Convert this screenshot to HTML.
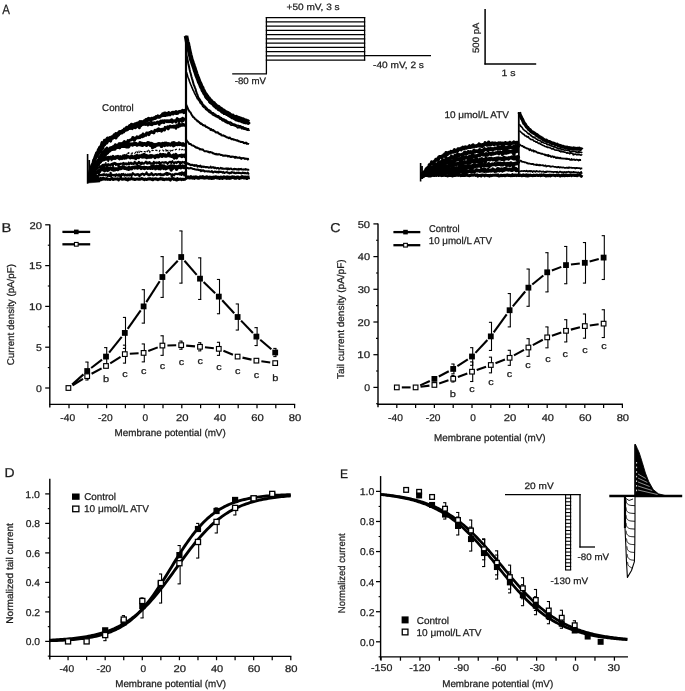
<!DOCTYPE html>
<html><head><meta charset="utf-8"><style>
html,body{margin:0;padding:0;background:#fff;}
svg{display:block;will-change:transform;}
text{font-family:"Liberation Sans", sans-serif;stroke:#1c1c1c;stroke-width:0.25px;text-rendering:geometricPrecision;}
</style></head><body>
<svg width="685" height="691" viewBox="0 0 685 691">
<rect x="0" y="0" width="685" height="691" fill="#fff"/>
<text x="2.14" y="13.8" font-size="13.4" fill="#1c1c1c" textLength="7.68" lengthAdjust="spacingAndGlyphs">A</text>
<line x1="232.2" y1="73.9" x2="267" y2="73.9" stroke="#000" stroke-width="1.3"/>
<line x1="266.4" y1="73.9" x2="266.4" y2="17" stroke="#000" stroke-width="1.3"/>
<line x1="265.8" y1="17.6" x2="365.2" y2="17.6" stroke="#000" stroke-width="1.25"/>
<line x1="265.8" y1="21.84" x2="365.2" y2="21.84" stroke="#000" stroke-width="1.25"/>
<line x1="265.8" y1="26.08" x2="365.2" y2="26.08" stroke="#000" stroke-width="1.25"/>
<line x1="265.8" y1="30.32" x2="365.2" y2="30.32" stroke="#000" stroke-width="1.25"/>
<line x1="265.8" y1="34.56" x2="365.2" y2="34.56" stroke="#000" stroke-width="1.25"/>
<line x1="265.8" y1="38.8" x2="365.2" y2="38.8" stroke="#000" stroke-width="1.25"/>
<line x1="265.8" y1="43.04" x2="365.2" y2="43.04" stroke="#000" stroke-width="1.25"/>
<line x1="265.8" y1="47.28" x2="365.2" y2="47.28" stroke="#000" stroke-width="1.25"/>
<line x1="265.8" y1="51.52" x2="365.2" y2="51.52" stroke="#000" stroke-width="1.25"/>
<line x1="265.8" y1="55.76" x2="365.2" y2="55.76" stroke="#000" stroke-width="1.25"/>
<line x1="265.8" y1="60" x2="365.2" y2="60" stroke="#000" stroke-width="1.25"/>
<line x1="364.6" y1="17" x2="364.6" y2="60.6" stroke="#000" stroke-width="1.3"/>
<line x1="364" y1="55.6" x2="431" y2="55.6" stroke="#000" stroke-width="1.3"/>
<text x="286.5" y="9.5" font-size="9.2" fill="#1c1c1c" textLength="53.08" lengthAdjust="spacingAndGlyphs">+50 mV, 3 s</text>
<text x="234.76" y="83.7" font-size="9.3" fill="#1c1c1c" textLength="31.22" lengthAdjust="spacingAndGlyphs">-80 mV</text>
<text x="373.14" y="68" font-size="9.2" fill="#1c1c1c" textLength="50.82" lengthAdjust="spacingAndGlyphs">-40 mV, 2 s</text>
<line x1="485.1" y1="9" x2="485.1" y2="64.6" stroke="#000" stroke-width="1.5"/>
<line x1="484.4" y1="64" x2="536.2" y2="64" stroke="#000" stroke-width="1.5"/>
<text transform="translate(479 52.6) rotate(-90)" x="-0.38" y="0" font-size="9.2" fill="#1c1c1c" textLength="30.38" lengthAdjust="spacingAndGlyphs">500 pA</text>
<text x="501.51" y="76.2" font-size="9.2" fill="#1c1c1c" textLength="14.05" lengthAdjust="spacingAndGlyphs">1 s</text>
<text x="102.11" y="110.6" font-size="9.8" fill="#1c1c1c" textLength="31.56" lengthAdjust="spacingAndGlyphs">Control</text>
<text x="444.45" y="117.7" font-size="9.7" fill="#1c1c1c" textLength="64.53" lengthAdjust="spacingAndGlyphs">10 μmol/L ATV</text>
<path d="M89,174.82 L89.6,173.24 L90.2,171.06 L90.8,168.85 L91.4,167.4 L92,165.31 L92.6,164.29 L93.2,163.39 L93.8,160.32 L94.4,159.51 L95,157.69 L95.6,156.14 L96.2,154.67 L96.8,152.77 L97.4,152.35 L98,151.86 L98.6,149.5 L99.2,149.23 L99.8,147.35 L100.4,146.94 L101,147.43 L101.6,144.96 L102.2,142.82 L102.8,144.62 L103.4,143.74 L104,142.78 L104.6,140.51 L105.2,140.45 L105.8,141.14 L106.4,140.77 L107,139.17 L107.6,138.22 L108.2,138.75 L108.8,138.49 L109.4,139.44 L110,137.78 L110.6,137.98 L111.2,138.28 L111.8,136.91 L112.4,136.91 L113,137.55 L113.6,136.35 L114.2,135.1 L114.8,135.66 L115.4,137.32 L116,133.82 L116.6,135.14 L117.2,134.25 L117.8,133.35 L118.4,134.82 L119,133.58 L119.6,131.83 L120.2,132.35 L120.8,132.32 L121.4,131.41 L122,131.65 L122.6,130.75 L123.2,130.9 L123.8,131.07 L124.4,129.23 L125,129.49 L125.6,128.67 L126.2,128.73 L126.8,127.47 L127.4,127.55 L128,127.49 L128.6,127.93 L129.2,127.78 L129.8,125.75 L130.4,125.81 L131,127.64 L131.6,124.4 L132.2,125.19 L132.8,125.18 L133.4,125.87 L134,125.23 L134.6,124.27 L135.2,124.01 L135.8,123.87 L136.4,124.88 L137,123.3 L137.6,123.18 L138.2,123.43 L138.8,122.9 L139.4,122.64 L140,121.81 L140.6,122.39 L141.2,121.9 L141.8,122.84 L142.4,122.29 L143,121.63 L143.6,121.94 L144.2,121.05 L144.8,121.84 L145.4,120.92 L146,119.63 L146.6,119.66 L147.2,120.62 L147.8,119.01 L148.4,118.58 L149,119.61 L149.6,119 L150.2,119.55 L150.8,120.81 L151.4,118.46 L152,118.4 L152.6,118.78 L153.2,118.78 L153.8,118.11 L154.4,117.89 L155,118.32 L155.6,117.99 L156.2,116.71 L156.8,117.17 L157.4,117.05 L158,116.09 L158.6,116.82 L159.2,117.1 L159.8,116.93 L160.4,116.2 L161,115.94 L161.6,115.29 L162.2,115.44 L162.8,113.95 L163.4,114.39 L164,115.27 L164.6,113.36 L165.2,115.29 L165.8,113.32 L166.4,114.93 L167,113.66 L167.6,114.67 L168.2,114.08 L168.8,112.78 L169.4,114.61 L170,114.62 L170.6,113.45 L171.2,113.19 L171.8,113.16 L172.4,112.49 L173,113.83 L173.6,112.58 L174.2,112.83 L174.8,113.06 L175.4,112.23 L176,111.68 L176.6,113.36 L177.2,112.28 L177.8,112.97 L178.4,112.21 L179,111.62 L179.6,111.79 L180.2,111.53 L180.8,111.84 L181.4,111.48 L182,111.44 L182.6,110.59 L183.2,110.89 L183.8,112.52 L184.4,110.8 L185,110.43 L185.6,111.3" stroke="#000" stroke-width="3.4" fill="none" stroke-linejoin="round" />
<path d="M89,178.17 L89.6,174.52 L90.2,173.12 L90.8,172.5 L91.4,167.86 L92,167.58 L92.6,165.47 L93.2,164.84 L93.8,164.24 L94.4,162.32 L95,159.53 L95.6,158.23 L96.2,157.26 L96.8,156.7 L97.4,155.33 L98,154.64 L98.6,153.77 L99.2,152.45 L99.8,151.75 L100.4,151.91 L101,149.94 L101.6,149.41 L102.2,149.38 L102.8,147.49 L103.4,146.17 L104,144.08 L104.6,144.76 L105.2,142.44 L105.8,142.21 L106.4,143.24 L107,142.62 L107.6,141.54 L108.2,139.99 L108.8,140.49 L109.4,139.86 L110,140.37 L110.6,141.12 L111.2,139.31 L111.8,138.23 L112.4,137.58 L113,137.99 L113.6,137.54 L114.2,136.49 L114.8,137.01 L115.4,135.76 L116,138.03 L116.6,136.55 L117.2,136.18 L117.8,134.7 L118.4,133.39 L119,134.16 L119.6,133.58 L120.2,133.23 L120.8,132.16 L121.4,131.67 L122,132.86 L122.6,131.79 L123.2,131.69 L123.8,131.88 L124.4,129.6 L125,129.91 L125.6,130.23 L126.2,130.03 L126.8,127.9 L127.4,129.82 L128,128.94 L128.6,127.64 L129.2,127.54 L129.8,128.48 L130.4,127.97 L131,126.07 L131.6,128.1 L132.2,128.61 L132.8,127.68 L133.4,126.27 L134,126.16 L134.6,125.42 L135.2,127.83 L135.8,125.8 L136.4,126.9 L137,125.22 L137.6,125.68 L138.2,124.29 L138.8,125.1 L139.4,127.73 L140,124.32 L140.6,125.86 L141.2,125.27 L141.8,124.24 L142.4,124.55 L143,124.51 L143.6,123.61 L144.2,124.33 L144.8,124.06 L145.4,124.37 L146,123.79 L146.6,123.54 L147.2,124.34 L147.8,124.92 L148.4,123.16 L149,124.15 L149.6,123.6 L150.2,124.13 L150.8,124.47 L151.4,123.41 L152,124.73 L152.6,123.04 L153.2,123.75 L153.8,123.23 L154.4,122.76 L155,123.6 L155.6,122.98 L156.2,123.42 L156.8,122.87 L157.4,122.04 L158,122.64 L158.6,122.65 L159.2,124.38 L159.8,121.79 L160.4,122.31 L161,121.05 L161.6,122.62 L162.2,121.32 L162.8,120.73 L163.4,121.88 L164,122.61 L164.6,120.69 L165.2,120.93 L165.8,121.1 L166.4,120.76 L167,121.74 L167.6,120.85 L168.2,120.85 L168.8,121.7 L169.4,120.71 L170,121.48 L170.6,121.4 L171.2,120.23 L171.8,119.74 L172.4,122.28 L173,120.7 L173.6,121.05 L174.2,120.81 L174.8,120.9 L175.4,120.78 L176,122.04 L176.6,119.94 L177.2,118.65 L177.8,119.87 L178.4,119.6 L179,121.02 L179.6,119.66 L180.2,119.74 L180.8,119.4 L181.4,120.09 L182,121.27 L182.6,118.28 L183.2,120.58 L183.8,119.41 L184.4,119.1 L185,119.32 L185.6,119.83" stroke="#000" stroke-width="3" fill="none" stroke-linejoin="round" />
<path d="M89,175.79 L89.6,175.28 L90.2,173.94 L90.8,175.5 L91.4,174.66 L92,171.48 L92.6,171.67 L93.2,170 L93.8,169.71 L94.4,168.28 L95,164.92 L95.6,166.28 L96.2,167.51 L96.8,165.64 L97.4,164.16 L98,163.2 L98.6,164.25 L99.2,161.95 L99.8,161.16 L100.4,161.56 L101,160.35 L101.6,159.72 L102.2,159.05 L102.8,158.97 L103.4,157.01 L104,156.47 L104.6,155.87 L105.2,153.34 L105.8,154.63 L106.4,153.51 L107,153.41 L107.6,153.06 L108.2,151.84 L108.8,150.39 L109.4,151.35 L110,150.1 L110.6,149.94 L111.2,149.31 L111.8,149.06 L112.4,147.28 L113,149.36 L113.6,148.3 L114.2,148.53 L114.8,148.79 L115.4,146.19 L116,145.47 L116.6,147.05 L117.2,145.25 L117.8,145.43 L118.4,145.54 L119,143.78 L119.6,145.14 L120.2,143.55 L120.8,145.93 L121.4,143.97 L122,143.55 L122.6,143.45 L123.2,142.85 L123.8,142.53 L124.4,141.52 L125,142.41 L125.6,142.35 L126.2,143.3 L126.8,142.58 L127.4,141.9 L128,140.68 L128.6,141.91 L129.2,140.61 L129.8,140.35 L130.4,139.95 L131,139.97 L131.6,139.36 L132.2,139.36 L132.8,137.51 L133.4,138.68 L134,140.3 L134.6,140.03 L135.2,138.07 L135.8,138.38 L136.4,138.27 L137,136.77 L137.6,137.18 L138.2,137.75 L138.8,137.07 L139.4,136.75 L140,137.54 L140.6,135.76 L141.2,136.07 L141.8,135.44 L142.4,136.63 L143,134.01 L143.6,136.31 L144.2,134.59 L144.8,135.22 L145.4,134.97 L146,135.32 L146.6,133.04 L147.2,133.1 L147.8,133.53 L148.4,133.07 L149,134.65 L149.6,132.49 L150.2,132.82 L150.8,132.48 L151.4,131.49 L152,131.88 L152.6,132.4 L153.2,132.16 L153.8,132.85 L154.4,131.4 L155,130.27 L155.6,130.62 L156.2,130.31 L156.8,129.91 L157.4,130.88 L158,129.93 L158.6,128.81 L159.2,130.5 L159.8,129.76 L160.4,129.91 L161,129.56 L161.6,131.19 L162.2,129.17 L162.8,129.85 L163.4,129.12 L164,128.94 L164.6,130.04 L165.2,127.35 L165.8,128.12 L166.4,127.91 L167,128.1 L167.6,126.88 L168.2,128.85 L168.8,127.66 L169.4,126.62 L170,126.16 L170.6,127.06 L171.2,127.09 L171.8,126.55 L172.4,127.02 L173,126.41 L173.6,127.15 L174.2,126.17 L174.8,126.56 L175.4,127.18 L176,128.21 L176.6,125.62 L177.2,125.92 L177.8,125.57 L178.4,126.63 L179,123.53 L179.6,125.57 L180.2,125.81 L180.8,125.06 L181.4,125 L182,125.25 L182.6,124.03 L183.2,124.4 L183.8,125.04 L184.4,125.35 L185,125.02 L185.6,123.82" stroke="#000" stroke-width="3" fill="none" stroke-linejoin="round" />
<path d="M89,177.44 L89.6,176.35 L90.2,174.55 L90.8,174.6 L91.4,172.94 L92,172.58 L92.6,170.79 L93.2,170.81 L93.8,166.95 L94.4,166.88 L95,166.5 L95.6,164.48 L96.2,163.09 L96.8,162.41 L97.4,161.85 L98,160.64 L98.6,161.29 L99.2,159.43 L99.8,156.94 L100.4,157.82 L101,155.72 L101.6,155.87 L102.2,152.7 L102.8,152.99 L103.4,153.33 L104,152.65 L104.6,151.23 L105.2,151.7 L105.8,149.54 L106.4,149.8 L107,148.43 L107.6,150.26 L108.2,150.55 L108.8,149.65 L109.4,150.44 L110,149.79 L110.6,148.01 L111.2,149.28 L111.8,149.35 L112.4,147.88 L113,147.6 L113.6,146.79 L114.2,146.88 L114.8,148.89 L115.4,145.05 L116,146.81 L116.6,147.25 L117.2,147.13 L117.8,147.26 L118.4,147.19 L119,146.7 L119.6,147.51 L120.2,145.07 L120.8,146.42 L121.4,145.78 L122,146.24 L122.6,146.16 L123.2,145.23 L123.8,145.3 L124.4,146.17 L125,145.74 L125.6,144.9 L126.2,146.68 L126.8,146.76 L127.4,144.01 L128,145.15 L128.6,146.59 L129.2,145.29 L129.8,144.82 L130.4,144.43 L131,144.13 L131.6,144.29 L132.2,144 L132.8,144.86 L133.4,144.01 L134,143.95 L134.6,143.39 L135.2,144.18 L135.8,143.57 L136.4,144.06 L137,144.91 L137.6,144.44 L138.2,144.54 L138.8,144.44 L139.4,144.24 L140,142.92 L140.6,144.01 L141.2,144.78 L141.8,143.5 L142.4,145.22 L143,144.33 L143.6,143.8 L144.2,144 L144.8,143.89 L145.4,144.5 L146,143.91 L146.6,145.23 L147.2,143.9 L147.8,142.87 L148.4,143.97 L149,143.08 L149.6,144.47 L150.2,145.24 L150.8,144.96 L151.4,143.57 L152,143.98 L152.6,147.31 L153.2,144.75 L153.8,144.54 L154.4,145.28 L155,146.26 L155.6,145.46 L156.2,144.66 L156.8,144.81 L157.4,145 L158,144.15 L158.6,143.84 L159.2,144.63 L159.8,143.93 L160.4,144.56 L161,144.67 L161.6,146.24 L162.2,144.01 L162.8,143.54 L163.4,144.5 L164,144.92 L164.6,145.34 L165.2,143.38 L165.8,144.03 L166.4,143.45 L167,143.95 L167.6,144.97 L168.2,144.62 L168.8,143.87 L169.4,144.31 L170,144.58 L170.6,144.9 L171.2,144.12 L171.8,144.35 L172.4,143.24 L173,143.7 L173.6,145.62 L174.2,142.95 L174.8,144.23 L175.4,144.6 L176,144.17 L176.6,143.86 L177.2,144.37 L177.8,144.39 L178.4,144.32 L179,143.05 L179.6,144.25 L180.2,143.74 L180.8,143.94 L181.4,144.46 L182,144.74 L182.6,144.9 L183.2,143.92 L183.8,144.9 L184.4,145.06 L185,145.02 L185.6,145.18" stroke="#000" stroke-width="3.6" fill="none" stroke-linejoin="round" />
<path d="M89,178.06 L89.6,176.57 L90.2,177 L90.8,177.04 L91.4,176.16 L92,174.93 L92.6,175.34 L93.2,175.28 L93.8,175.08 L94.4,172.57 L95,174.34 L95.6,171.84 L96.2,172.28 L96.8,171.8 L97.4,171.06 L98,170.02 L98.6,168.75 L99.2,169.04 L99.8,167.77 L100.4,167.95 L101,168.41 L101.6,166.81 L102.2,166.81 L102.8,164.91 L103.4,165.58 L104,165.17 L104.6,165.94 L105.2,163.51 L105.8,162.53 L106.4,162.66 L107,161.27 L107.6,161.15 L108.2,161.68 L108.8,160.78 L109.4,160.84 L110,160.53 L110.6,161.22 L111.2,160.58 L111.8,159.61 L112.4,159.94 L113,158.67 L113.6,158.62 L114.2,158.98 L114.8,157.66 L115.4,157.9 L116,157.15 L116.6,157.64 L117.2,158.18 L117.8,156.77 L118.4,157.04 L119,156.27 L119.6,155.93 L120.2,155.68 L120.8,156.83 L121.4,157.08 L122,155.94 L122.6,155.15 L123.2,155.67 L123.8,154.97 L124.4,155.35 L125,154.92 L125.6,154.74 L126.2,154.73 L126.8,153.97 L127.4,153.89 L128,151.83 L128.6,153.56 L129.2,152.92 L129.8,153.42 L130.4,152.87 L131,153.27 L131.6,153.31 L132.2,153.47 L132.8,152.44 L133.4,152.26 L134,153.01 L134.6,153.39 L135.2,152.87 L135.8,152.18 L136.4,153 L137,151.44 L137.6,152.87 L138.2,151.72 L138.8,150.59 L139.4,153.23 L140,152.64 L140.6,151.27 L141.2,151.81 L141.8,151.57 L142.4,151.67 L143,150.83 L143.6,151.18 L144.2,151.7 L144.8,151.53 L145.4,151.97 L146,151.36 L146.6,152.45 L147.2,150.87 L147.8,152.35 L148.4,150.17 L149,150.46 L149.6,153.45 L150.2,150.51 L150.8,151.2 L151.4,150.85 L152,150.31 L152.6,150.61 L153.2,150.49 L153.8,150.46 L154.4,151.03 L155,150.94 L155.6,150.29 L156.2,150.08 L156.8,150.64 L157.4,150.41 L158,150.94 L158.6,151.72 L159.2,151.65 L159.8,150.31 L160.4,150.21 L161,149.83 L161.6,149.78 L162.2,149.7 L162.8,149.98 L163.4,150.94 L164,150.49 L164.6,149.89 L165.2,149.97 L165.8,149.43 L166.4,152.3 L167,150.25 L167.6,150.86 L168.2,150.34 L168.8,150.67 L169.4,149.78 L170,150.24 L170.6,151.22 L171.2,149.24 L171.8,150.42 L172.4,150.66 L173,150.01 L173.6,150.16 L174.2,150.41 L174.8,149.42 L175.4,149.95 L176,149.28 L176.6,149.37 L177.2,149.38 L177.8,149.61 L178.4,149.75 L179,149.89 L179.6,148.92 L180.2,150.65 L180.8,150.21 L181.4,149.98 L182,149.41 L182.6,149.54 L183.2,149.85 L183.8,149.76 L184.4,148.68 L185,149.9 L185.6,151" stroke="#000" stroke-width="1.1" fill="none" stroke-linejoin="round" stroke-dasharray="2.5 2"/>
<path d="M89,178.22 L89.6,177.12 L90.2,176.94 L90.8,175.67 L91.4,175.64 L92,174.81 L92.6,172.96 L93.2,172.88 L93.8,170.92 L94.4,169.74 L95,168.01 L95.6,165.97 L96.2,167.22 L96.8,165.01 L97.4,165.48 L98,164.49 L98.6,163.7 L99.2,161.38 L99.8,160.55 L100.4,161.97 L101,160.5 L101.6,160.57 L102.2,158.51 L102.8,160.1 L103.4,158.92 L104,159.66 L104.6,157.69 L105.2,159.16 L105.8,158.4 L106.4,158.94 L107,157.69 L107.6,157.78 L108.2,159.55 L108.8,157.47 L109.4,157.48 L110,157.7 L110.6,157.16 L111.2,158.55 L111.8,158.85 L112.4,157.23 L113,156.53 L113.6,158.37 L114.2,158.3 L114.8,158.07 L115.4,158.26 L116,156.91 L116.6,157.33 L117.2,156.52 L117.8,156.47 L118.4,158.01 L119,156.91 L119.6,158.81 L120.2,157.36 L120.8,156.88 L121.4,157.8 L122,158.43 L122.6,157.56 L123.2,156.44 L123.8,157.46 L124.4,158.1 L125,155.7 L125.6,156.67 L126.2,157.82 L126.8,157.24 L127.4,156.42 L128,156.87 L128.6,156.61 L129.2,157.28 L129.8,157.14 L130.4,157.8 L131,157.49 L131.6,156 L132.2,157.26 L132.8,157.55 L133.4,157.25 L134,157.6 L134.6,156.55 L135.2,156.26 L135.8,158.65 L136.4,156.14 L137,155.41 L137.6,157.45 L138.2,156.29 L138.8,157.55 L139.4,155.81 L140,155.83 L140.6,155.91 L141.2,156.41 L141.8,156.86 L142.4,155.1 L143,157.06 L143.6,155.78 L144.2,154.5 L144.8,156.94 L145.4,156.42 L146,155.45 L146.6,157.62 L147.2,155.84 L147.8,156.54 L148.4,156.49 L149,157.25 L149.6,156.02 L150.2,156.95 L150.8,155.79 L151.4,156.98 L152,155.74 L152.6,155.98 L153.2,156.05 L153.8,156.38 L154.4,156.23 L155,157.59 L155.6,156.35 L156.2,155.57 L156.8,156.56 L157.4,155.3 L158,156.78 L158.6,156.81 L159.2,155.64 L159.8,155.59 L160.4,154.36 L161,155.97 L161.6,155.31 L162.2,156.3 L162.8,154.58 L163.4,155.61 L164,154.77 L164.6,155.68 L165.2,156.04 L165.8,155.03 L166.4,156.19 L167,155.68 L167.6,155.36 L168.2,154.87 L168.8,153.27 L169.4,155.96 L170,155.09 L170.6,155.74 L171.2,156.37 L171.8,156.34 L172.4,156.66 L173,155.44 L173.6,154.91 L174.2,158.06 L174.8,155.79 L175.4,156.3 L176,154.42 L176.6,157.84 L177.2,156.08 L177.8,155.98 L178.4,155.82 L179,155.74 L179.6,155.62 L180.2,155.6 L180.8,156.08 L181.4,155.09 L182,156.53 L182.6,155.32 L183.2,156.01 L183.8,155.3 L184.4,155.18 L185,156.65 L185.6,155.11" stroke="#000" stroke-width="3.2" fill="none" stroke-linejoin="round" />
<path d="M89,178.14 L89.6,177.48 L90.2,176.97 L90.8,177.04 L91.4,174.54 L92,176.11 L92.6,173.72 L93.2,173.34 L93.8,171.84 L94.4,171.65 L95,171.4 L95.6,171.27 L96.2,169.42 L96.8,169.29 L97.4,167.52 L98,167.9 L98.6,167.21 L99.2,167.56 L99.8,166.12 L100.4,167.94 L101,166.51 L101.6,165.82 L102.2,165.34 L102.8,164.9 L103.4,167.98 L104,164.58 L104.6,166.19 L105.2,165.5 L105.8,164.82 L106.4,164.24 L107,165.46 L107.6,165.78 L108.2,164.1 L108.8,164.4 L109.4,165.14 L110,164.64 L110.6,165.58 L111.2,163.98 L111.8,164.59 L112.4,163.46 L113,165.42 L113.6,163.68 L114.2,162.76 L114.8,163.97 L115.4,163.02 L116,165.12 L116.6,163.74 L117.2,163.91 L117.8,164.25 L118.4,166.4 L119,163.81 L119.6,164.45 L120.2,164.11 L120.8,163.61 L121.4,163.81 L122,163.77 L122.6,163.19 L123.2,164.45 L123.8,162.87 L124.4,164.39 L125,164.25 L125.6,163.6 L126.2,163.19 L126.8,164.47 L127.4,163.9 L128,164.05 L128.6,162.52 L129.2,164.17 L129.8,163.22 L130.4,163.68 L131,162.59 L131.6,163.97 L132.2,163.59 L132.8,163.23 L133.4,164.16 L134,163.86 L134.6,161.73 L135.2,163.43 L135.8,162.51 L136.4,164.01 L137,164.84 L137.6,163.02 L138.2,163.36 L138.8,161.7 L139.4,162.55 L140,163.65 L140.6,164.01 L141.2,162.63 L141.8,164.15 L142.4,162.63 L143,163.34 L143.6,163.85 L144.2,163.57 L144.8,162.56 L145.4,162.69 L146,161.61 L146.6,163.05 L147.2,163.75 L147.8,162.27 L148.4,163.31 L149,163.39 L149.6,161.98 L150.2,163.28 L150.8,163.9 L151.4,163.27 L152,163.48 L152.6,163.29 L153.2,164.02 L153.8,161.8 L154.4,163.7 L155,162.77 L155.6,162.75 L156.2,162.33 L156.8,163.13 L157.4,162.67 L158,162.48 L158.6,163.18 L159.2,162 L159.8,163.73 L160.4,164.72 L161,162.71 L161.6,162.43 L162.2,162.38 L162.8,162.17 L163.4,162.51 L164,162.84 L164.6,162.72 L165.2,161.97 L165.8,162.65 L166.4,162.27 L167,162.89 L167.6,163.91 L168.2,163.16 L168.8,162.58 L169.4,161.79 L170,161.9 L170.6,161.73 L171.2,163.17 L171.8,162.27 L172.4,161.17 L173,162.33 L173.6,162.75 L174.2,163.53 L174.8,162.27 L175.4,162.47 L176,162.18 L176.6,163.18 L177.2,162.03 L177.8,161.95 L178.4,161.79 L179,161.77 L179.6,162.88 L180.2,164.13 L180.8,161.99 L181.4,163.14 L182,162.71 L182.6,161.89 L183.2,162.38 L183.8,162.4 L184.4,162.11 L185,163.67 L185.6,161.36" stroke="#000" stroke-width="2" fill="none" stroke-linejoin="round" />
<path d="M89,177.81 L89.6,179.05 L90.2,177.47 L90.8,180.01 L91.4,177.72 L92,175.92 L92.6,175.84 L93.2,175.5 L93.8,174.64 L94.4,173.75 L95,174.38 L95.6,173.18 L96.2,173.1 L96.8,172.12 L97.4,172.18 L98,171.1 L98.6,172.58 L99.2,172.15 L99.8,170.58 L100.4,169.96 L101,169.29 L101.6,169.88 L102.2,169.81 L102.8,169.26 L103.4,167.26 L104,169.57 L104.6,170.76 L105.2,168.89 L105.8,169.24 L106.4,169.21 L107,167.24 L107.6,170.41 L108.2,168.36 L108.8,169.68 L109.4,168.59 L110,168.21 L110.6,168.55 L111.2,168.78 L111.8,169.37 L112.4,168.58 L113,167.71 L113.6,170.09 L114.2,169.05 L114.8,169.81 L115.4,168.96 L116,168.66 L116.6,169.23 L117.2,169.1 L117.8,169.5 L118.4,169.1 L119,168.3 L119.6,167.24 L120.2,168.46 L120.8,168.52 L121.4,168.43 L122,167.78 L122.6,166.9 L123.2,167.81 L123.8,166.92 L124.4,168.26 L125,168.2 L125.6,167.95 L126.2,168.61 L126.8,168.71 L127.4,168.19 L128,169.2 L128.6,169.31 L129.2,167.3 L129.8,168.74 L130.4,168.33 L131,168.3 L131.6,168.62 L132.2,167.53 L132.8,167.59 L133.4,167.42 L134,167.45 L134.6,167.86 L135.2,166.96 L135.8,167.21 L136.4,167.38 L137,167.81 L137.6,168.08 L138.2,166.59 L138.8,167.29 L139.4,167.42 L140,166.76 L140.6,167.37 L141.2,168.34 L141.8,167.68 L142.4,167.71 L143,167.69 L143.6,168.12 L144.2,167.34 L144.8,168.36 L145.4,167.91 L146,167.7 L146.6,167.61 L147.2,167.91 L147.8,168.21 L148.4,168.15 L149,167.77 L149.6,168.08 L150.2,167.57 L150.8,168.3 L151.4,167.45 L152,166.11 L152.6,168.31 L153.2,167.5 L153.8,166.66 L154.4,167.28 L155,166.82 L155.6,168.75 L156.2,167.69 L156.8,166.34 L157.4,167.7 L158,167.08 L158.6,168.57 L159.2,166.63 L159.8,165.85 L160.4,168.75 L161,167.06 L161.6,167.01 L162.2,165.88 L162.8,167.54 L163.4,168.34 L164,166 L164.6,167.99 L165.2,166.85 L165.8,168.74 L166.4,167.49 L167,167.08 L167.6,167.91 L168.2,167.52 L168.8,166.79 L169.4,167.63 L170,166.83 L170.6,165.99 L171.2,170.08 L171.8,166.01 L172.4,166.74 L173,168.17 L173.6,166.11 L174.2,166.23 L174.8,166.78 L175.4,166.76 L176,167.14 L176.6,169.24 L177.2,166.78 L177.8,167.4 L178.4,167.46 L179,166.36 L179.6,167.21 L180.2,166.44 L180.8,167.74 L181.4,167.34 L182,167.05 L182.6,166.16 L183.2,167.1 L183.8,166.52 L184.4,167.48 L185,166.93 L185.6,166.48" stroke="#000" stroke-width="3.4" fill="none" stroke-linejoin="round" />
<path d="M89,178.57 L89.6,179.65 L90.2,178.35 L90.8,178.03 L91.4,179.01 L92,178.28 L92.6,179.11 L93.2,177.18 L93.8,176.36 L94.4,176.35 L95,174.82 L95.6,176.49 L96.2,176.66 L96.8,175.79 L97.4,176.29 L98,176.16 L98.6,175.3 L99.2,174.5 L99.8,175.38 L100.4,175.02 L101,175.11 L101.6,175.24 L102.2,174.57 L102.8,174.57 L103.4,175.11 L104,174.16 L104.6,174.67 L105.2,175.33 L105.8,174.88 L106.4,174.38 L107,175 L107.6,176.1 L108.2,174.56 L108.8,175.67 L109.4,175.8 L110,175.88 L110.6,172.78 L111.2,176.2 L111.8,175.07 L112.4,174.85 L113,174.87 L113.6,175.37 L114.2,175.04 L114.8,174.9 L115.4,175.77 L116,174.56 L116.6,174.36 L117.2,175.46 L117.8,175.4 L118.4,175.63 L119,174.32 L119.6,175.61 L120.2,175.24 L120.8,177.31 L121.4,174.19 L122,175.06 L122.6,174.76 L123.2,173.97 L123.8,174.48 L124.4,175.58 L125,174.61 L125.6,174.45 L126.2,175.4 L126.8,175.47 L127.4,175.46 L128,174.38 L128.6,174.81 L129.2,175.46 L129.8,174.44 L130.4,174.37 L131,175.31 L131.6,175.74 L132.2,174.11 L132.8,173.23 L133.4,173.91 L134,174.16 L134.6,174.68 L135.2,175.12 L135.8,174.65 L136.4,174.31 L137,174.81 L137.6,174.14 L138.2,174.67 L138.8,174.31 L139.4,176.29 L140,175.16 L140.6,175.13 L141.2,174.05 L141.8,174.38 L142.4,173.65 L143,174.18 L143.6,174.17 L144.2,175.13 L144.8,174.33 L145.4,174.11 L146,173.77 L146.6,172.48 L147.2,174.51 L147.8,174.41 L148.4,175.21 L149,174.14 L149.6,175.14 L150.2,174.65 L150.8,174.48 L151.4,173.27 L152,173.69 L152.6,174.9 L153.2,175.28 L153.8,174.56 L154.4,174.88 L155,174.17 L155.6,174.18 L156.2,174 L156.8,174.97 L157.4,174.58 L158,174.22 L158.6,174.15 L159.2,174.67 L159.8,174.52 L160.4,173.82 L161,175.34 L161.6,174.45 L162.2,174.29 L162.8,175.16 L163.4,174.88 L164,174.2 L164.6,174.56 L165.2,173.59 L165.8,173.83 L166.4,172.85 L167,174.93 L167.6,173.05 L168.2,174.58 L168.8,173.66 L169.4,173.56 L170,174.02 L170.6,174.28 L171.2,174.48 L171.8,176.69 L172.4,174.3 L173,174.6 L173.6,175.11 L174.2,175.32 L174.8,174.13 L175.4,173.75 L176,173.95 L176.6,173.96 L177.2,174.1 L177.8,174.21 L178.4,173.66 L179,173.5 L179.6,174.38 L180.2,172.9 L180.8,174.38 L181.4,174.83 L182,172.26 L182.6,173.46 L183.2,174.27 L183.8,172.86 L184.4,175.39 L185,172.27 L185.6,174.67" stroke="#000" stroke-width="2.2" fill="none" stroke-linejoin="round" />
<path d="M88.5,178.75 L89.2,178.85 L89.9,178.62 L90.6,178.9 L91.3,179.17 L92,179.4 L92.7,179 L93.4,179.83 L94.1,178.97 L94.8,180.28 L95.5,179.4 L96.2,179.2 L96.9,178.8 L97.6,177.87 L98.3,178.94 L99,179.07 L99.7,179.77 L100.4,178.45 L101.1,179.76 L101.8,178.9 L102.5,179.29 L103.2,177.98 L103.9,179.06 L104.6,178.86 L105.3,179.27 L106,179.04 L106.7,178.54 L107.4,179.38 L108.1,179.28 L108.8,179.24 L109.5,179.4 L110.2,179.44 L110.9,178.99 L111.6,178.46 L112.3,178.45 L113,179.54 L113.7,179.28 L114.4,179.04 L115.1,178.83 L115.8,179.01 L116.5,179.01 L117.2,178.87 L117.9,178.72 L118.6,179.87 L119.3,179.09 L120,178.76 L120.7,178.48 L121.4,178.71 L122.1,179.29 L122.8,179.3 L123.5,178.91 L124.2,179.02 L124.9,178.88 L125.6,178.56 L126.3,179.52 L127,179.15 L127.7,179.99 L128.4,178.7 L129.1,178.94 L129.8,179.35 L130.5,178.9 L131.2,178.44 L131.9,178.62 L132.6,179.04 L133.3,179.14 L134,178.96 L134.7,179.4 L135.4,179.4 L136.1,179.13 L136.8,179.01 L137.5,178.9 L138.2,179.22 L138.9,179.37 L139.6,179.02 L140.3,179.18 L141,178.87 L141.7,178.44 L142.4,178.6 L143.1,179.31 L143.8,179.18 L144.5,179.64 L145.2,179.02 L145.9,179.35 L146.6,179.53 L147.3,179.4 L148,178.76 L148.7,178.93 L149.4,179.05 L150.1,178.61 L150.8,179.19 L151.5,179.41 L152.2,178.81 L152.9,179.79 L153.6,178.88 L154.3,178.92 L155,178.9 L155.7,178.72 L156.4,179.17 L157.1,179.01 L157.8,179.66 L158.5,179.24 L159.2,179.22 L159.9,178.91 L160.6,178.43 L161.3,178.96 L162,178.66 L162.7,179.38 L163.4,178.99 L164.1,179.67 L164.8,179.29 L165.5,179.33 L166.2,179.09 L166.9,179.08 L167.6,179.26 L168.3,179.37 L169,178.72 L169.7,179.2 L170.4,180.05 L171.1,178.96 L171.8,178.9 L172.5,178.72 L173.2,178.42 L173.9,179.48 L174.6,179.02 L175.3,179.12 L176,179.74 L176.7,180 L177.4,178.64 L178.1,179.42 L178.8,179.25 L179.5,179.16 L180.2,179.19 L180.9,178.99 L181.6,179.64 L182.3,179.25 L183,179.14 L183.7,179.5 L184.4,179.36 L185.1,179.19 L185.8,179.13 L186.5,179.7" stroke="#000" stroke-width="3" fill="none" stroke-linejoin="round" />
<path d="M186,177.78 L186.7,177.57 L187.4,177.3 L188.1,177.48 L188.8,177.23 L189.5,177.64 L190.2,177.69 L190.9,176.88 L191.6,177.61 L192.3,177.83 L193,177.66 L193.7,177.27 L194.4,178.04 L195.1,177.36 L195.8,177.17 L196.5,177.22 L197.2,177.6 L197.9,177.94 L198.6,178.01 L199.3,177.67 L200,177.18 L200.7,177.37 L201.4,177.29 L202.1,177.54 L202.8,176.98 L203.5,177.64 L204.2,177.83 L204.9,177.55 L205.6,177.76 L206.3,177.27 L207,177.09 L207.7,177.38 L208.4,178.01 L209.1,177.96 L209.8,177.44 L210.5,178.02 L211.2,177.49 L211.9,178.13 L212.6,177.77 L213.3,177.44 L214,177.88 L214.7,177.33 L215.4,177.27 L216.1,177.09 L216.8,177.69 L217.5,177.58 L218.2,177.57 L218.9,177.46 L219.6,178.1 L220.3,177.45 L221,177.35 L221.7,178.04 L222.4,178.1 L223.1,177.72 L223.8,176.99 L224.5,177.39 L225.2,177.81 L225.9,177.61 L226.6,178.14 L227.3,177.12 L228,177.84 L228.7,177.38 L229.4,178.06 L230.1,177.57 L230.8,177.96 L231.5,177.37 L232.2,177.11 L232.9,177.21 L233.6,177.39 L234.3,177.24 L235,178.02 L235.7,178.07 L236.4,177.7 L237.1,177.24 L237.8,177.56 L238.5,177.36 L239.2,178.11 L239.9,177.71 L240.6,177.77 L241.3,177.46 L242,176.9 L242.7,177.33 L243.4,177.21 L244.1,177.73 L244.8,177.63 L245.5,177.32 L246.2,177.46 L246.9,178.15 L247.6,177.26 L248.3,177.28 L249,177.52 L249.7,177.36" stroke="#000" stroke-width="3.6" fill="none" stroke-linejoin="round" />
<path d="M87.5,176 L96,177 L100,179.5 L100,182 L87.5,183Z" stroke="#000" stroke-width="0.5" fill="#000" stroke-linejoin="round" />
<line x1="87.6" y1="154" x2="87.6" y2="183.7" stroke="#000" stroke-width="1.6"/>
<line x1="89.2" y1="160" x2="89.2" y2="182" stroke="#000" stroke-width="1.8"/>
<line x1="90.8" y1="166" x2="90.8" y2="180" stroke="#000" stroke-width="1.5"/>
<line x1="186" y1="35.5" x2="186" y2="179.5" stroke="#000" stroke-width="2.2"/>
<path d="M186,35.85 L186.6,38.9 L187.2,42.04 L187.8,43.49 L188.4,46.8 L189,49.6 L189.6,52.29 L190.2,54.84 L190.8,57.14 L191.4,59.72 L192,61.12 L192.6,63.04 L193.2,64.82 L193.8,66.57 L194.4,68.18 L195,70.35 L195.6,71.86 L196.2,73.86 L196.8,75.67 L197.4,77.08 L198,78.71 L198.6,80.1 L199.2,81.96 L199.8,83.02 L200.4,84.25 L201,86.01 L201.6,87.38 L202.2,87.81 L202.8,90.2 L203.4,90.76 L204,91.81 L204.6,93.28 L205.2,93.95 L205.8,94.68 L206.4,96.57 L207,96.29 L207.6,97.45 L208.2,98.55 L208.8,98.61 L209.4,99.65 L210,100.47 L210.6,101.8 L211.2,101.23 L211.8,102.08 L212.4,102.87 L213,103.18 L213.6,103.24 L214.2,104.31 L214.8,104.69 L215.4,105.3 L216,106.01 L216.6,106.44 L217.2,106.69 L217.8,107.11 L218.4,107.07 L219,107.85 L219.6,108.41 L220.2,108.62 L220.8,109.21 L221.4,109.3 L222,110.54 L222.6,111.15 L223.2,110.65 L223.8,111.31 L224.4,111.47 L225,112.37 L225.6,112.44 L226.2,112.68 L226.8,112.94 L227.4,113.42 L228,113.38 L228.6,114.31 L229.2,114.17 L229.8,114.94 L230.4,115.13 L231,115.79 L231.6,115.71 L232.2,116.39 L232.8,116.01 L233.4,116.84 L234,116.83 L234.6,117.25 L235.2,117.48 L235.8,118.04 L236.4,117.25 L237,118.31 L237.6,117.9 L238.2,119.07 L238.8,118.16 L239.4,118.7 L240,118.66 L240.6,120.01 L241.2,119.17 L241.8,119.83 L242.4,119.78 L243,119.51 L243.6,120.19 L244.2,120.71 L244.8,120.58 L245.4,121.14 L246,120.85 L246.6,121.15 L247.2,121.18 L247.8,121.61 L248.4,122.33 L249,121.98" stroke="#000" stroke-width="4.6" fill="none" stroke-linejoin="round" />
<path d="M205,95.57 L205.6,95.96 L206.2,96.6 L206.8,98.08 L207.4,97.88 L208,98.66 L208.6,99.65 L209.2,100.24 L209.8,101.77 L210.4,100.95 L211,102.57 L211.6,103.35 L212.2,103.34 L212.8,104.12 L213.4,105.09 L214,106.07 L214.6,105.71 L215.2,106 L215.8,107.4 L216.4,108.08 L217,107.9 L217.6,107.7 L218.2,109.43 L218.8,109.29 L219.4,110.18 L220,110.18 L220.6,110.47 L221.2,110.85 L221.8,111.91 L222.4,112.29 L223,111.42 L223.6,112.22 L224.2,113.55 L224.8,113.17 L225.4,113.19 L226,114.03 L226.6,114.35 L227.2,114.71 L227.8,114.93 L228.4,115.33 L229,115.62 L229.6,116.23 L230.2,116.15 L230.8,116.66 L231.4,117.03 L232,117.85 L232.6,117.83 L233.2,117.95 L233.8,118.47 L234.4,118.71 L235,119.23 L235.6,119.3 L236.2,120.01 L236.8,120.11 L237.4,119.87 L238,119.98 L238.6,120.66 L239.2,120.76 L239.8,120.76 L240.4,120.49 L241,120.57 L241.6,121.53 L242.2,121.88 L242.8,122.09 L243.4,121.55 L244,122.56 L244.6,122.2 L245.2,122.72 L245.8,122.92 L246.4,122.69 L247,122.96 L247.6,122.63 L248.2,123.24 L248.8,123.13 L249.4,124.12" stroke="#000" stroke-width="3" fill="none" stroke-linejoin="round" />
<path d="M186,52.02 L186.6,55.34 L187.2,58.25 L187.8,60.88 L188.4,63.96 L189,66.5 L189.6,69.49 L190.2,71.95 L190.8,73.94 L191.4,76.46 L192,78.58 L192.6,80.49 L193.2,82.8 L193.8,84.92 L194.4,86.12 L195,87.89 L195.6,89.14 L196.2,91.68 L196.8,93.42 L197.4,94.52 L198,96.65 L198.6,97.95 L199.2,98.61 L199.8,99.69 L200.4,100.44 L201,101.85 L201.6,102.02 L202.2,103.2 L202.8,104.66 L203.4,104.84 L204,105.68 L204.6,106.17 L205.2,106.52 L205.8,107.49 L206.4,108.22 L207,108.36 L207.6,109.32 L208.2,110.11 L208.8,110.56 L209.4,110.25 L210,110.88 L210.6,111.14 L211.2,112.37 L211.8,112.65 L212.4,113.08 L213,113 L213.6,113.3 L214.2,114.05 L214.8,114.44 L215.4,114.52 L216,115.18 L216.6,115.69 L217.2,115.92 L217.8,115.89 L218.4,115.91 L219,116.81 L219.6,117.27 L220.2,117.49 L220.8,117.77 L221.4,118.02 L222,118.77 L222.6,118.87 L223.2,119.25 L223.8,119.25 L224.4,119.68 L225,120.24 L225.6,120.2 L226.2,120.43 L226.8,121.01 L227.4,121.76 L228,121.74 L228.6,122.4 L229.2,122.2 L229.8,122.41 L230.4,122.34 L231,122.84 L231.6,123.69 L232.2,123.61 L232.8,123.97 L233.4,124.2 L234,124.22 L234.6,124.4 L235.2,124.73 L235.8,125.12 L236.4,125.29 L237,125.53 L237.6,125.64 L238.2,125.58 L238.8,125.94 L239.4,125.95 L240,126.73 L240.6,126 L241.2,126.77 L241.8,127.74 L242.4,127.12 L243,127.07 L243.6,127.6 L244.2,128.18 L244.8,127.94 L245.4,128.36 L246,128.4 L246.6,128.45 L247.2,129.69 L247.8,128.96 L248.4,128.98 L249,129.19" stroke="#000" stroke-width="2" fill="none" stroke-linejoin="round" />
<path d="M186.5,72.11 L187.1,74.11 L187.7,76.25 L188.3,77.99 L188.9,79.29 L189.5,81.54 L190.1,82.93 L190.7,84.52 L191.3,85.67 L191.9,87.39 L192.5,88.7 L193.1,90.2 L193.7,91.04 L194.3,92.75 L194.9,94.01 L195.5,94.83 L196.1,96.12 L196.7,97.13 L197.3,98.69 L197.9,98.62 L198.5,100.18 L199.1,100.64 L199.7,101.83 L200.3,103.03 L200.9,103.38 L201.5,104.38 L202.1,104.83 L202.7,106.39 L203.3,106.78 L203.9,107.52 L204.5,107.42 L205.1,108.1 L205.7,109.36 L206.3,109.54 L206.9,110.06 L207.5,110.77 L208.1,110.79 L208.7,111.89 L209.3,112.12 L209.9,112.7 L210.5,112.79 L211.1,113.56 L211.7,113.6 L212.3,114.5 L212.9,114.94 L213.5,115.25 L214.1,115.51 L214.7,115.92 L215.3,115.27 L215.9,116.7 L216.5,116.72 L217.1,117.18 L217.7,117.41 L218.3,117.42 L218.9,118.02 L219.5,118.72 L220.1,119.28 L220.7,119 L221.3,119.25 L221.9,120.29 L222.5,119.92 L223.1,121.13 L223.7,120.85 L224.3,120.9 L224.9,121.78 L225.5,122.31 L226.1,121.69 L226.7,122.9 L227.3,122.65 L227.9,123.48 L228.5,123.21 L229.1,123.14 L229.7,124.05 L230.3,124.45 L230.9,125.07 L231.5,125.22 L232.1,125.17 L232.7,125.14 L233.3,125.3 L233.9,125.61 L234.5,125.68 L235.1,126.08 L235.7,125.62 L236.3,126.66 L236.9,126.82 L237.5,127.8 L238.1,127.46 L238.7,127.28 L239.3,127.78 L239.9,127.43 L240.5,127.8 L241.1,127.59 L241.7,128.76 L242.3,128.67 L242.9,128.31 L243.5,128.81 L244.1,129.28 L244.7,129.3 L245.3,129.43 L245.9,129.23 L246.5,129.46 L247.1,129.84 L247.7,130.26 L248.3,129.9 L248.9,129.99 L249.5,130.84" stroke="#000" stroke-width="1.6" fill="none" stroke-linejoin="round" />
<path d="M186,104.02 L186.6,105.85 L187.2,106.92 L187.8,108.43 L188.4,109.9 L189,110.66 L189.6,111.64 L190.2,112.01 L190.8,112.94 L191.4,114.2 L192,115.31 L192.6,116.08 L193.2,117.14 L193.8,117.29 L194.4,117.97 L195,118.89 L195.6,119.24 L196.2,119.82 L196.8,120.09 L197.4,121.25 L198,121.13 L198.6,122.08 L199.2,121.96 L199.8,123.15 L200.4,122.94 L201,123.9 L201.6,123.57 L202.2,124.3 L202.8,125.16 L203.4,124.94 L204,125.56 L204.6,125.76 L205.2,125.56 L205.8,126.69 L206.4,127.07 L207,126.95 L207.6,127.78 L208.2,127.71 L208.8,127.97 L209.4,128.6 L210,128.72 L210.6,129.94 L211.2,129.1 L211.8,130.11 L212.4,130.51 L213,129.93 L213.6,130.33 L214.2,131.33 L214.8,131.34 L215.4,131.91 L216,132.45 L216.6,132.31 L217.2,132.42 L217.8,132.22 L218.4,133.41 L219,133.37 L219.6,134.04 L220.2,134.31 L220.8,134.11 L221.4,135.33 L222,135.41 L222.6,135.62 L223.2,135.28 L223.8,135.78 L224.4,136 L225,136.29 L225.6,136.33 L226.2,137.04 L226.8,137.22 L227.4,137.5 L228,137.47 L228.6,138.24 L229.2,138.13 L229.8,137.47 L230.4,138.31 L231,138.69 L231.6,139.2 L232.2,139.02 L232.8,139.23 L233.4,139.3 L234,139.89 L234.6,139.74 L235.2,139.88 L235.8,140.02 L236.4,140.58 L237,140.44 L237.6,140.27 L238.2,141.13 L238.8,140.91 L239.4,141.4 L240,141.58 L240.6,142 L241.2,142.12 L241.8,141.8 L242.4,142.1 L243,141.93 L243.6,142.99 L244.2,142.79 L244.8,143.25 L245.4,142.9 L246,142.56 L246.6,143.8 L247.2,143.55 L247.8,143.73 L248.4,143.89 L249,144.24" stroke="#000" stroke-width="2" fill="none" stroke-linejoin="round" />
<path d="M186,140.16 L186.6,140.17 L187.2,141.68 L187.8,141.91 L188.4,142.56 L189,143.77 L189.6,143.99 L190.2,144.03 L190.8,143.96 L191.4,144.94 L192,145.4 L192.6,145.55 L193.2,145.53 L193.8,145.97 L194.4,146.13 L195,146.85 L195.6,147.31 L196.2,147.64 L196.8,147.36 L197.4,147.91 L198,148.24 L198.6,148.17 L199.2,148.51 L199.8,149.43 L200.4,149.09 L201,149.52 L201.6,149.36 L202.2,149.73 L202.8,149.43 L203.4,150.16 L204,150.75 L204.6,151.23 L205.2,151.18 L205.8,151.23 L206.4,151.25 L207,151.26 L207.6,151.59 L208.2,152.01 L208.8,151.78 L209.4,152.49 L210,152.09 L210.6,152.03 L211.2,152.43 L211.8,152.4 L212.4,152.65 L213,153.56 L213.6,153.31 L214.2,153.58 L214.8,154.01 L215.4,154.17 L216,153.77 L216.6,154.45 L217.2,154.29 L217.8,154.3 L218.4,154.55 L219,154.1 L219.6,154.4 L220.2,154.72 L220.8,155.04 L221.4,154.85 L222,155.03 L222.6,155.46 L223.2,155.7 L223.8,155.6 L224.4,155.85 L225,155.45 L225.6,155.58 L226.2,155.86 L226.8,155.77 L227.4,155.8 L228,156.54 L228.6,156.08 L229.2,155.95 L229.8,156.48 L230.4,156.98 L231,156.54 L231.6,156.98 L232.2,156.58 L232.8,156.66 L233.4,156.7 L234,156.96 L234.6,157.65 L235.2,156.85 L235.8,157.78 L236.4,157.08 L237,157.41 L237.6,157.82 L238.2,157.85 L238.8,157.84 L239.4,157.35 L240,158.04 L240.6,157.71 L241.2,158.88 L241.8,158.13 L242.4,158.34 L243,158.02 L243.6,158.31 L244.2,158.15 L244.8,158.92 L245.4,158.63 L246,158.96 L246.6,158.67 L247.2,158.81 L247.8,159.44 L248.4,158.85 L249,158.69" stroke="#000" stroke-width="2" fill="none" stroke-linejoin="round" />
<path d="M186,163.14 L186.6,162.81 L187.2,163.27 L187.8,163.96 L188.4,163.58 L189,164.4 L189.6,164.06 L190.2,165.02 L190.8,165.15 L191.4,164.68 L192,164.93 L192.6,164.85 L193.2,165.35 L193.8,165.81 L194.4,165.01 L195,165.95 L195.6,165.26 L196.2,165.51 L196.8,165.27 L197.4,166.72 L198,166.08 L198.6,166.22 L199.2,165.97 L199.8,166.65 L200.4,165.61 L201,166.43 L201.6,167.26 L202.2,166.43 L202.8,166.64 L203.4,166.94 L204,166.49 L204.6,166.85 L205.2,167.24 L205.8,167.04 L206.4,167.17 L207,166.99 L207.6,167.28 L208.2,167.26 L208.8,167.81 L209.4,167.62 L210,167.34 L210.6,166.63 L211.2,167.8 L211.8,167.87 L212.4,167.34 L213,167.02 L213.6,167.38 L214.2,168.16 L214.8,167.51 L215.4,167.78 L216,168.07 L216.6,168.47 L217.2,168.08 L217.8,168.1 L218.4,167.99 L219,168.8 L219.6,168.64 L220.2,168.28 L220.8,167.86 L221.4,168.12 L222,168.64 L222.6,168.22 L223.2,168.82 L223.8,168.67 L224.4,168.68 L225,168.84 L225.6,168.82 L226.2,168.38 L226.8,168.6 L227.4,169.57 L228,168.36 L228.6,168.64 L229.2,169.21 L229.8,168.81 L230.4,168.62 L231,168.47 L231.6,169.15 L232.2,169.35 L232.8,169.51 L233.4,169.06 L234,169.44 L234.6,168.74 L235.2,169.19 L235.8,168.92 L236.4,169.25 L237,169.48 L237.6,169.61 L238.2,168.92 L238.8,169.74 L239.4,169.16 L240,168.99 L240.6,169.32 L241.2,168.89 L241.8,169.43 L242.4,169.56 L243,169.42 L243.6,169.7 L244.2,169.43 L244.8,169.57 L245.4,169.1 L246,169.64 L246.6,169.36 L247.2,169.53 L247.8,169.68 L248.4,169.81 L249,169.2" stroke="#000" stroke-width="2" fill="none" stroke-linejoin="round" />
<path d="M186,166.95 L186.6,167.5 L187.2,167.88 L187.8,167.94 L188.4,168.24 L189,168.49 L189.6,168.33 L190.2,168.26 L190.8,168.03 L191.4,168.18 L192,168.46 L192.6,168.84 L193.2,168.95 L193.8,169 L194.4,169.06 L195,169.46 L195.6,169.43 L196.2,169.58 L196.8,169.71 L197.4,169.52 L198,169.47 L198.6,170.11 L199.2,170.19 L199.8,170.08 L200.4,170.11 L201,171.16 L201.6,170.19 L202.2,170.47 L202.8,170.74 L203.4,170.33 L204,170.85 L204.6,171.53 L205.2,171.3 L205.8,171.27 L206.4,171.33 L207,171.23 L207.6,171.6 L208.2,171.27 L208.8,171.23 L209.4,171.48 L210,171.82 L210.6,171.66 L211.2,171.83 L211.8,170.94 L212.4,172.11 L213,172.56 L213.6,172.25 L214.2,171.71 L214.8,171.56 L215.4,171.99 L216,171.59 L216.6,172.22 L217.2,171.82 L217.8,172.37 L218.4,172.54 L219,171.39 L219.6,172.23 L220.2,171.91 L220.8,171.69 L221.4,171.99 L222,172.16 L222.6,172.62 L223.2,171.75 L223.8,172.68 L224.4,173.04 L225,172.57 L225.6,172.57 L226.2,172.4 L226.8,172.01 L227.4,172.63 L228,172.6 L228.6,172.74 L229.2,173.41 L229.8,172.78 L230.4,172.7 L231,173.11 L231.6,172.12 L232.2,172.21 L232.8,172.49 L233.4,172.41 L234,172.91 L234.6,172.57 L235.2,173.31 L235.8,173.25 L236.4,173.01 L237,172.62 L237.6,172.99 L238.2,173.08 L238.8,172.44 L239.4,172.96 L240,173.1 L240.6,172.95 L241.2,173.44 L241.8,173.34 L242.4,172.64 L243,173 L243.6,172.68 L244.2,173.2 L244.8,172.71 L245.4,173.36 L246,173.2 L246.6,173.42 L247.2,173.06 L247.8,172.62 L248.4,173.77 L249,173.12" stroke="#000" stroke-width="2" fill="none" stroke-linejoin="round" />
<path d="M421.5,175.94 L422.1,174.56 L422.7,173.92 L423.3,173.85 L423.9,172.21 L424.5,172.11 L425.1,171.17 L425.7,170.39 L426.3,169.04 L426.9,168.45 L427.5,167.89 L428.1,167.46 L428.7,168.81 L429.3,164.93 L429.9,165.49 L430.5,164.46 L431.1,163.75 L431.7,161.9 L432.3,163.55 L432.9,162.52 L433.5,162.66 L434.1,162.38 L434.7,161.05 L435.3,160.85 L435.9,159.52 L436.5,160.11 L437.1,160.01 L437.7,158.74 L438.3,159.34 L438.9,157.02 L439.5,156.76 L440.1,156.66 L440.7,156.83 L441.3,156.77 L441.9,158.09 L442.5,156.02 L443.1,156.16 L443.7,155.11 L444.3,155.47 L444.9,154.02 L445.5,156.59 L446.1,152.75 L446.7,153.77 L447.3,154.46 L447.9,153.6 L448.5,152.55 L449.1,152.79 L449.7,153.05 L450.3,153 L450.9,151.5 L451.5,152.26 L452.1,151.72 L452.7,152.01 L453.3,151.96 L453.9,150.7 L454.5,149.83 L455.1,150.73 L455.7,151.36 L456.3,150.51 L456.9,150.05 L457.5,151.17 L458.1,148.92 L458.7,149.91 L459.3,148.86 L459.9,149.06 L460.5,148.93 L461.1,149.62 L461.7,148 L462.3,148.09 L462.9,147.3 L463.5,148.41 L464.1,147.7 L464.7,148.09 L465.3,147.06 L465.9,147.36 L466.5,148.07 L467.1,147.22 L467.7,147.58 L468.3,147.4 L468.9,146.76 L469.5,145.92 L470.1,147.34 L470.7,146.75 L471.3,147.13 L471.9,146.87 L472.5,145.35 L473.1,144.96 L473.7,146.87 L474.3,146.68 L474.9,146.31 L475.5,145.86 L476.1,145.88 L476.7,146.17 L477.3,145.45 L477.9,145.79 L478.5,145.56 L479.1,144.09 L479.7,145.1 L480.3,146.07 L480.9,144.95 L481.5,145.03 L482.1,146.46 L482.7,144.7 L483.3,145.6 L483.9,144.7 L484.5,144.19 L485.1,142.88 L485.7,144.35 L486.3,143.45 L486.9,145.05 L487.5,145 L488.1,144.9 L488.7,142.11 L489.3,144.89 L489.9,144.6 L490.5,143.81 L491.1,144.68 L491.7,143.22 L492.3,143.43 L492.9,143.24 L493.5,143.4 L494.1,144.55 L494.7,143.19 L495.3,143.26 L495.9,143.34 L496.5,143.99 L497.1,143.63 L497.7,144.32 L498.3,143.34 L498.9,142.96 L499.5,143.4 L500.1,143.69 L500.7,143.08 L501.3,143.78 L501.9,144.67 L502.5,143.2 L503.1,143.55 L503.7,144.31 L504.3,143.08 L504.9,142.93 L505.5,142.76 L506.1,143.63 L506.7,143.68 L507.3,143.26 L507.9,143.35 L508.5,144.06 L509.1,143.8 L509.7,142.41 L510.3,143.23 L510.9,143.28 L511.5,143.63 L512.1,143.04 L512.7,142.77 L513.3,142.86 L513.9,142.05 L514.5,143.08 L515.1,142.72 L515.7,143.35 L516.3,142.43 L516.9,142.77 L517.5,142.43 L518.1,144.01 L518.7,143.41" stroke="#000" stroke-width="3.4" fill="none" stroke-linejoin="round" />
<path d="M421.5,175.77 L422.1,173.89 L422.7,174.26 L423.3,173.06 L423.9,173.73 L424.5,174.17 L425.1,172.32 L425.7,171.77 L426.3,171.01 L426.9,169.99 L427.5,170.8 L428.1,169.19 L428.7,168.87 L429.3,168.98 L429.9,168.31 L430.5,168.48 L431.1,168.53 L431.7,167.68 L432.3,167.26 L432.9,166.77 L433.5,166.89 L434.1,164.9 L434.7,165.87 L435.3,164.73 L435.9,164.2 L436.5,164.6 L437.1,164.02 L437.7,164.27 L438.3,164.26 L438.9,161.88 L439.5,162.92 L440.1,163.83 L440.7,162 L441.3,162.92 L441.9,161.82 L442.5,160.61 L443.1,160.51 L443.7,161.33 L444.3,161.21 L444.9,159.92 L445.5,159.94 L446.1,159.99 L446.7,158.53 L447.3,159.12 L447.9,160.06 L448.5,160.16 L449.1,158.54 L449.7,159.47 L450.3,157.83 L450.9,157.43 L451.5,156.35 L452.1,158.05 L452.7,157.04 L453.3,158.46 L453.9,157.05 L454.5,156.76 L455.1,155.36 L455.7,157.15 L456.3,155.84 L456.9,155.77 L457.5,154.36 L458.1,156.06 L458.7,155.92 L459.3,154.78 L459.9,155.03 L460.5,155.04 L461.1,155.22 L461.7,154.54 L462.3,155.35 L462.9,155.47 L463.5,153.63 L464.1,153.57 L464.7,152.17 L465.3,153.06 L465.9,154.01 L466.5,153.42 L467.1,152.63 L467.7,153.19 L468.3,151.64 L468.9,152.54 L469.5,152.9 L470.1,152.88 L470.7,151.87 L471.3,152.76 L471.9,153.21 L472.5,151.71 L473.1,152.29 L473.7,150.8 L474.3,150.44 L474.9,151.88 L475.5,151.43 L476.1,151.41 L476.7,150.84 L477.3,150.91 L477.9,151.47 L478.5,151.91 L479.1,150.65 L479.7,149.7 L480.3,151.36 L480.9,150.86 L481.5,150.82 L482.1,150.43 L482.7,151.62 L483.3,150.19 L483.9,150.37 L484.5,148.86 L485.1,149.54 L485.7,149.4 L486.3,149.71 L486.9,149.86 L487.5,149.13 L488.1,150.54 L488.7,148.79 L489.3,149.08 L489.9,149.42 L490.5,148.46 L491.1,149.48 L491.7,149.45 L492.3,148.83 L492.9,150.09 L493.5,148.93 L494.1,148.98 L494.7,148.18 L495.3,148.81 L495.9,148.25 L496.5,148.38 L497.1,148.24 L497.7,148.92 L498.3,146.97 L498.9,147.67 L499.5,147.2 L500.1,149.05 L500.7,147.85 L501.3,147.83 L501.9,147.42 L502.5,148.58 L503.1,147.74 L503.7,149.54 L504.3,146.67 L504.9,148.55 L505.5,148.04 L506.1,148.09 L506.7,149.48 L507.3,147.56 L507.9,147.53 L508.5,148.02 L509.1,147.8 L509.7,146.21 L510.3,147.49 L510.9,147.13 L511.5,147.82 L512.1,147.92 L512.7,147.32 L513.3,148.41 L513.9,146.32 L514.5,147.07 L515.1,148.21 L515.7,146.89 L516.3,146.15 L516.9,147.92 L517.5,147.38 L518.1,146.3 L518.7,147.45" stroke="#000" stroke-width="3.4" fill="none" stroke-linejoin="round" />
<path d="M421.5,174.91 L422.1,175.89 L422.7,175.34 L423.3,174.7 L423.9,174.08 L424.5,173.61 L425.1,172.57 L425.7,172.41 L426.3,172.8 L426.9,172.08 L427.5,172.76 L428.1,171.1 L428.7,169.52 L429.3,170.42 L429.9,170.46 L430.5,170.2 L431.1,169.69 L431.7,168.84 L432.3,169.92 L432.9,169.91 L433.5,168.84 L434.1,167.94 L434.7,167.1 L435.3,168.39 L435.9,165.75 L436.5,166.46 L437.1,166.96 L437.7,166.22 L438.3,166.62 L438.9,165.85 L439.5,165.38 L440.1,166.7 L440.7,165.02 L441.3,166.33 L441.9,164.01 L442.5,163.98 L443.1,164.58 L443.7,164.3 L444.3,163.74 L444.9,163.09 L445.5,163.7 L446.1,162.05 L446.7,162.66 L447.3,162.5 L447.9,161.94 L448.5,162.34 L449.1,161.65 L449.7,160.29 L450.3,162.74 L450.9,161.91 L451.5,162 L452.1,161.13 L452.7,161.49 L453.3,162.2 L453.9,161.29 L454.5,161.81 L455.1,160.08 L455.7,160.2 L456.3,159.85 L456.9,159.16 L457.5,158.72 L458.1,159.42 L458.7,159.63 L459.3,158.75 L459.9,159.63 L460.5,159.57 L461.1,158.41 L461.7,159.37 L462.3,159.42 L462.9,158.51 L463.5,157.51 L464.1,158.84 L464.7,157.73 L465.3,157.47 L465.9,157.64 L466.5,157.12 L467.1,157.96 L467.7,157.66 L468.3,159.57 L468.9,157.31 L469.5,156.37 L470.1,156.63 L470.7,158.92 L471.3,156.26 L471.9,158.15 L472.5,154.98 L473.1,155.83 L473.7,156.76 L474.3,156.42 L474.9,155.85 L475.5,156.5 L476.1,155.93 L476.7,156.08 L477.3,155.94 L477.9,155.21 L478.5,155.56 L479.1,155.71 L479.7,155.57 L480.3,153.18 L480.9,154.41 L481.5,154.39 L482.1,154.63 L482.7,154.8 L483.3,154.04 L483.9,154.9 L484.5,154.37 L485.1,154.39 L485.7,155.35 L486.3,153.85 L486.9,154.33 L487.5,155.01 L488.1,154.21 L488.7,153.58 L489.3,154.09 L489.9,153.56 L490.5,153.66 L491.1,154.29 L491.7,153.88 L492.3,153.37 L492.9,154 L493.5,153.67 L494.1,153.41 L494.7,153.47 L495.3,153.38 L495.9,152.96 L496.5,152.84 L497.1,153.07 L497.7,152.43 L498.3,152.19 L498.9,153.67 L499.5,152.69 L500.1,152.77 L500.7,152.65 L501.3,152.7 L501.9,152.65 L502.5,154.41 L503.1,152.05 L503.7,153.05 L504.3,152.03 L504.9,153.02 L505.5,151.2 L506.1,151.67 L506.7,152.86 L507.3,152.13 L507.9,151.77 L508.5,152.36 L509.1,151.47 L509.7,152.1 L510.3,151.79 L510.9,151.7 L511.5,151.55 L512.1,152.22 L512.7,152.39 L513.3,151.31 L513.9,154.4 L514.5,151.4 L515.1,150.48 L515.7,150.25 L516.3,151.52 L516.9,149.8 L517.5,151.19 L518.1,151.1 L518.7,150.86" stroke="#000" stroke-width="3.4" fill="none" stroke-linejoin="round" />
<path d="M421.5,175.12 L422.1,174.69 L422.7,174.11 L423.3,174.75 L423.9,174.74 L424.5,173.34 L425.1,173.52 L425.7,173.59 L426.3,173.18 L426.9,172.64 L427.5,173.29 L428.1,173.06 L428.7,172.71 L429.3,171.93 L429.9,173 L430.5,171.7 L431.1,171.1 L431.7,171.03 L432.3,171.59 L432.9,170.17 L433.5,170.67 L434.1,170.24 L434.7,169.58 L435.3,169.65 L435.9,168.63 L436.5,169.05 L437.1,167.97 L437.7,170.34 L438.3,169.68 L438.9,169.32 L439.5,168.57 L440.1,168.8 L440.7,168.78 L441.3,168.44 L441.9,167.25 L442.5,166.93 L443.1,167.56 L443.7,166.81 L444.3,166.25 L444.9,166.11 L445.5,166.89 L446.1,167.1 L446.7,166.37 L447.3,167.2 L447.9,166.88 L448.5,165.62 L449.1,166.54 L449.7,165.5 L450.3,165.99 L450.9,165.03 L451.5,164.45 L452.1,165.18 L452.7,163.6 L453.3,164.79 L453.9,165.27 L454.5,164.62 L455.1,164.78 L455.7,164.48 L456.3,164.5 L456.9,164.02 L457.5,163.32 L458.1,163.56 L458.7,163.53 L459.3,164.21 L459.9,164.32 L460.5,161.78 L461.1,162.67 L461.7,161.13 L462.3,162.79 L462.9,163.63 L463.5,162.89 L464.1,162.56 L464.7,162.03 L465.3,162.92 L465.9,162.46 L466.5,162.16 L467.1,162.16 L467.7,163.02 L468.3,161.81 L468.9,162.83 L469.5,162.47 L470.1,161.67 L470.7,162.08 L471.3,161.39 L471.9,160.89 L472.5,161.14 L473.1,160.67 L473.7,161.44 L474.3,161.06 L474.9,161.32 L475.5,161.4 L476.1,158 L476.7,160.93 L477.3,159.59 L477.9,161.61 L478.5,160 L479.1,160.52 L479.7,162.76 L480.3,159.29 L480.9,161.79 L481.5,160.14 L482.1,158.98 L482.7,160.44 L483.3,160.01 L483.9,159.62 L484.5,159.43 L485.1,162.54 L485.7,159.51 L486.3,158.61 L486.9,159.07 L487.5,159.35 L488.1,159.28 L488.7,159.41 L489.3,158.77 L489.9,159.67 L490.5,159.01 L491.1,158.43 L491.7,158.7 L492.3,158.91 L492.9,159.6 L493.5,159.33 L494.1,158.79 L494.7,158.96 L495.3,159.03 L495.9,160.07 L496.5,158.43 L497.1,159.04 L497.7,159.15 L498.3,158.1 L498.9,158.74 L499.5,158.68 L500.1,158.26 L500.7,158.84 L501.3,159.08 L501.9,159.1 L502.5,158.27 L503.1,158.46 L503.7,159.72 L504.3,157.61 L504.9,158.36 L505.5,158.73 L506.1,158.25 L506.7,158.52 L507.3,158.19 L507.9,158.5 L508.5,158.79 L509.1,157.85 L509.7,158.07 L510.3,157.89 L510.9,157.65 L511.5,157.84 L512.1,157.15 L512.7,158.24 L513.3,158.79 L513.9,158.76 L514.5,158.47 L515.1,157.1 L515.7,158.56 L516.3,157.19 L516.9,157.56 L517.5,160.06 L518.1,156.9 L518.7,158.02" stroke="#000" stroke-width="3.6" fill="none" stroke-linejoin="round" />
<path d="M421.5,176.2 L422.1,176.87 L422.7,176.02 L423.3,176.18 L423.9,174.37 L424.5,175.4 L425.1,175.28 L425.7,174.42 L426.3,174.41 L426.9,172.29 L427.5,173.59 L428.1,174.85 L428.7,172.55 L429.3,173.14 L429.9,173.48 L430.5,173.51 L431.1,173.99 L431.7,171.81 L432.3,172.75 L432.9,173.09 L433.5,171.65 L434.1,172.27 L434.7,173.29 L435.3,172.81 L435.9,172.21 L436.5,170.19 L437.1,171.55 L437.7,172.72 L438.3,171.19 L438.9,171.21 L439.5,172.97 L440.1,170.87 L440.7,170.3 L441.3,170.91 L441.9,170.46 L442.5,170.35 L443.1,170.36 L443.7,170.77 L444.3,170.34 L444.9,169.36 L445.5,169.9 L446.1,170.15 L446.7,169.48 L447.3,170.35 L447.9,170.02 L448.5,168.86 L449.1,169.55 L449.7,170.45 L450.3,170.1 L450.9,169.03 L451.5,169.51 L452.1,168.47 L452.7,167.92 L453.3,169.03 L453.9,168.75 L454.5,168.83 L455.1,168.42 L455.7,168.54 L456.3,167.95 L456.9,168.46 L457.5,168.59 L458.1,167.98 L458.7,168.42 L459.3,166.79 L459.9,167.3 L460.5,168.56 L461.1,168.68 L461.7,166.36 L462.3,167.41 L462.9,166.63 L463.5,169.06 L464.1,167.72 L464.7,166.29 L465.3,167.45 L465.9,167.34 L466.5,167.24 L467.1,166.23 L467.7,167.17 L468.3,165.88 L468.9,167.61 L469.5,166.73 L470.1,165.89 L470.7,167.33 L471.3,167.16 L471.9,166.01 L472.5,167.67 L473.1,165.68 L473.7,164.9 L474.3,166.88 L474.9,164.75 L475.5,166.66 L476.1,165.97 L476.7,165.94 L477.3,165.25 L477.9,166.04 L478.5,165.13 L479.1,165.16 L479.7,165.42 L480.3,164.91 L480.9,166.54 L481.5,164.75 L482.1,163.57 L482.7,165.26 L483.3,165.4 L483.9,165.83 L484.5,165.8 L485.1,165.08 L485.7,164.99 L486.3,165.2 L486.9,165.63 L487.5,165.51 L488.1,164.74 L488.7,163.77 L489.3,166.25 L489.9,165.5 L490.5,165.05 L491.1,165.05 L491.7,164.5 L492.3,164.17 L492.9,164.54 L493.5,164.56 L494.1,164.29 L494.7,163.75 L495.3,164.4 L495.9,164.9 L496.5,164.22 L497.1,164.5 L497.7,163.21 L498.3,164.29 L498.9,164.31 L499.5,163.62 L500.1,163.28 L500.7,164.54 L501.3,163.77 L501.9,164.52 L502.5,163.94 L503.1,164.54 L503.7,163.93 L504.3,163.2 L504.9,164.03 L505.5,163.85 L506.1,164.42 L506.7,165.2 L507.3,163.73 L507.9,164.46 L508.5,164.61 L509.1,163.53 L509.7,165.5 L510.3,164.11 L510.9,163.14 L511.5,164.31 L512.1,164 L512.7,164.83 L513.3,163.8 L513.9,165.13 L514.5,163.67 L515.1,163.5 L515.7,163.4 L516.3,163.58 L516.9,163.72 L517.5,162.87 L518.1,162.34 L518.7,163.69" stroke="#000" stroke-width="3.6" fill="none" stroke-linejoin="round" />
<path d="M421.5,175.95 L422.1,175.87 L422.7,174.83 L423.3,175.39 L423.9,174.33 L424.5,174.92 L425.1,174.59 L425.7,174.95 L426.3,174.76 L426.9,174.59 L427.5,174.23 L428.1,173.72 L428.7,175.74 L429.3,174.77 L429.9,172.96 L430.5,175.72 L431.1,174.33 L431.7,174.65 L432.3,174.25 L432.9,174.88 L433.5,174.4 L434.1,174.21 L434.7,173.8 L435.3,174.05 L435.9,174.51 L436.5,172.5 L437.1,173.6 L437.7,173.37 L438.3,173.37 L438.9,172.3 L439.5,173.86 L440.1,172.85 L440.7,173.16 L441.3,172.94 L441.9,171.26 L442.5,172.85 L443.1,171.96 L443.7,172.44 L444.3,172.76 L444.9,172.89 L445.5,172.87 L446.1,172.7 L446.7,172.65 L447.3,172.94 L447.9,171.89 L448.5,172.2 L449.1,172.13 L449.7,172.36 L450.3,172.06 L450.9,171.86 L451.5,173.31 L452.1,172.3 L452.7,172.03 L453.3,172.03 L453.9,170.43 L454.5,172.93 L455.1,172.33 L455.7,172.68 L456.3,170.09 L456.9,170.75 L457.5,172.51 L458.1,173.02 L458.7,171.81 L459.3,170.72 L459.9,172.06 L460.5,171.31 L461.1,170.56 L461.7,171.22 L462.3,172.19 L462.9,172.24 L463.5,171.91 L464.1,170.81 L464.7,172.92 L465.3,170.67 L465.9,171.29 L466.5,170.43 L467.1,172.06 L467.7,171.5 L468.3,171.73 L468.9,171.22 L469.5,171.1 L470.1,171.21 L470.7,169.94 L471.3,171.64 L471.9,171.56 L472.5,170.75 L473.1,170.94 L473.7,171.1 L474.3,171.83 L474.9,171.12 L475.5,170.86 L476.1,170.5 L476.7,169.88 L477.3,170.4 L477.9,170.77 L478.5,170.55 L479.1,170.72 L479.7,171.1 L480.3,170.88 L480.9,170.76 L481.5,169.66 L482.1,170.66 L482.7,170.51 L483.3,170.78 L483.9,169.44 L484.5,171.21 L485.1,169.66 L485.7,170.91 L486.3,170.4 L486.9,171.03 L487.5,170.37 L488.1,169.76 L488.7,170.95 L489.3,170.39 L489.9,170.33 L490.5,170.29 L491.1,170.82 L491.7,170.69 L492.3,170.32 L492.9,169.23 L493.5,169.9 L494.1,170.19 L494.7,171.18 L495.3,170.32 L495.9,170.02 L496.5,170.77 L497.1,169.97 L497.7,168.76 L498.3,170.1 L498.9,169.09 L499.5,170.54 L500.1,170.21 L500.7,169.77 L501.3,169.24 L501.9,170.03 L502.5,170.73 L503.1,169.49 L503.7,169.22 L504.3,170.1 L504.9,168.87 L505.5,168.48 L506.1,169.53 L506.7,169.37 L507.3,169.61 L507.9,169.43 L508.5,169.94 L509.1,169.6 L509.7,169.36 L510.3,169.43 L510.9,170.07 L511.5,170.26 L512.1,170.21 L512.7,170.07 L513.3,167.66 L513.9,169.03 L514.5,169.43 L515.1,169.73 L515.7,168.63 L516.3,170.44 L516.9,169.76 L517.5,170.24 L518.1,169.65 L518.7,169.33" stroke="#000" stroke-width="3.6" fill="none" stroke-linejoin="round" />
<path d="M421,175.74 L421.7,175.48 L422.4,175.34 L423.1,175.88 L423.8,175.15 L424.5,175.71 L425.2,175.33 L425.9,175.48 L426.6,175.43 L427.3,175.45 L428,175.4 L428.7,175.18 L429.4,175.24 L430.1,175.55 L430.8,175.38 L431.5,175.07 L432.2,175.2 L432.9,175.21 L433.6,175.4 L434.3,175.47 L435,175.44 L435.7,175.22 L436.4,175.42 L437.1,175 L437.8,174.55 L438.5,175.4 L439.2,174.92 L439.9,175.13 L440.6,175.05 L441.3,175.6 L442,175.05 L442.7,175.49 L443.4,175.26 L444.1,175.04 L444.8,174.94 L445.5,175.55 L446.2,175.52 L446.9,175.64 L447.6,175.96 L448.3,175.49 L449,175.49 L449.7,175.37 L450.4,175.44 L451.1,175.3 L451.8,175.14 L452.5,176 L453.2,174.85 L453.9,175.48 L454.6,175.54 L455.3,175.45 L456,175.12 L456.7,175.35 L457.4,175.27 L458.1,175.08 L458.8,175.39 L459.5,175.28 L460.2,175.24 L460.9,175.61 L461.6,175.08 L462.3,175.53 L463,175.22 L463.7,175.53 L464.4,175.42 L465.1,175.47 L465.8,175.11 L466.5,175.17 L467.2,175.14 L467.9,175.45 L468.6,175.62 L469.3,175.72 L470,175.25 L470.7,175.42 L471.4,174.91 L472.1,174.73 L472.8,175.14 L473.5,175.2 L474.2,174.93 L474.9,174.86 L475.6,175.56 L476.3,175.16 L477,174.89 L477.7,176.09 L478.4,175.45 L479.1,175.3 L479.8,175.6 L480.5,175.17 L481.2,175.87 L481.9,174.93 L482.6,175 L483.3,175.35 L484,175.17 L484.7,175.82 L485.4,174.91 L486.1,175.17 L486.8,175.46 L487.5,175.56 L488.2,175.69 L488.9,175.49 L489.6,176.05 L490.3,175.25 L491,175.44 L491.7,175.65 L492.4,175.3 L493.1,175.3 L493.8,175.25 L494.5,175.2 L495.2,175.05 L495.9,175.22 L496.6,174.93 L497.3,175.5 L498,174.91 L498.7,176.01 L499.4,175.9 L500.1,175.72 L500.8,175.32 L501.5,175.21 L502.2,175.75 L502.9,175.44 L503.6,175.55 L504.3,175.17 L505,175.71 L505.7,175.15 L506.4,175.42 L507.1,174.87 L507.8,175.19 L508.5,175.54 L509.2,175.25 L509.9,175.25 L510.6,175.62 L511.3,175.36 L512,175.76 L512.7,174.66 L513.4,175.55 L514.1,175.54 L514.8,174.92 L515.5,175 L516.2,175.65 L516.9,175.07 L517.6,175.19 L518.3,175.56 L519,175.29 L519.7,175.53 L520.4,175.13 L521.1,175.47 L521.8,175.71 L522.5,175.48 L523.2,174.73 L523.9,175.58 L524.6,175.4 L525.3,175.11 L526,175.8 L526.7,174.86 L527.4,175.94 L528.1,175.19 L528.8,175.85 L529.5,175.37 L530.2,174.99 L530.9,175.41 L531.6,175.48 L532.3,175.55 L533,175.7 L533.7,175.12 L534.4,175.53 L535.1,175.6 L535.8,175.3 L536.5,175.1 L537.2,175.1 L537.9,175.61 L538.6,175.62 L539.3,175.14 L540,174.98 L540.7,175.75 L541.4,174.92 L542.1,175.43 L542.8,175.14 L543.5,174.86 L544.2,175.42 L544.9,175.33 L545.6,175.81 L546.3,176.06 L547,175.33 L547.7,175.69 L548.4,175.7 L549.1,175.23 L549.8,175.12 L550.5,175.86 L551.2,175.27 L551.9,175.38 L552.6,175.3 L553.3,175.34 L554,175.2 L554.7,175.61 L555.4,175.76 L556.1,175.27 L556.8,174.97 L557.5,175.4 L558.2,174.94 L558.9,175.19 L559.6,175.75 L560.3,176.08 L561,175.5 L561.7,175.07 L562.4,175.62 L563.1,174.71 L563.8,175.18 L564.5,175.84 L565.2,175.61 L565.9,174.97 L566.6,174.89 L567.3,175.64 L568,175.37 L568.7,175.21 L569.4,175.51 L570.1,175.21 L570.8,174.81 L571.5,175.62 L572.2,175.19 L572.9,175.08 L573.6,174.99 L574.3,175.46 L575,175.14 L575.7,175.57 L576.4,175.3 L577.1,175.71 L577.8,175.27 L578.5,175.19 L579.2,174.8 L579.9,175.06 L580.6,175.6 L581.3,176.3 L582,175.01" stroke="#000" stroke-width="3" fill="none" stroke-linejoin="round" />
<line x1="420.6" y1="163" x2="420.6" y2="181.5" stroke="#000" stroke-width="1.6"/>
<line x1="422" y1="166" x2="422" y2="179" stroke="#000" stroke-width="1.8"/>
<line x1="518.8" y1="112" x2="518.8" y2="177" stroke="#000" stroke-width="1.8"/>
<path d="M519.3,112.27 L519.9,114.36 L520.5,116 L521.1,116.99 L521.7,118.45 L522.3,119.14 L522.9,120.67 L523.5,122.11 L524.1,123.34 L524.7,123.74 L525.3,124.61 L525.9,125.69 L526.5,126.7 L527.1,127.29 L527.7,127.65 L528.3,128.66 L528.9,129.47 L529.5,129.56 L530.1,129.93 L530.7,131.01 L531.3,131.45 L531.9,132.1 L532.5,132.28 L533.1,132.5 L533.7,132.97 L534.3,133.21 L534.9,133.63 L535.5,134.15 L536.1,134.57 L536.7,135.43 L537.3,135.12 L537.9,135.86 L538.5,136.08 L539.1,137.07 L539.7,137.08 L540.3,137.25 L540.9,137.97 L541.5,138.1 L542.1,138.29 L542.7,139.24 L543.3,139.33 L543.9,139.96 L544.5,140.11 L545.1,140.31 L545.7,140.42 L546.3,140.35 L546.9,141.17 L547.5,141.25 L548.1,141.7 L548.7,141.75 L549.3,141.8 L549.9,141.95 L550.5,142.7 L551.1,143.11 L551.7,142.86 L552.3,143.31 L552.9,143.8 L553.5,143.36 L554.1,143.72 L554.7,143.7 L555.3,144.59 L555.9,144.53 L556.5,144.53 L557.1,144.38 L557.7,145.04 L558.3,145.6 L558.9,145.43 L559.5,145.6 L560.1,146.12 L560.7,145.76 L561.3,146.33 L561.9,146.68 L562.5,146.44 L563.1,146.59 L563.7,147.07 L564.3,147.11 L564.9,147.2 L565.5,147.46 L566.1,147.58 L566.7,147.35 L567.3,147.52 L567.9,147.95 L568.5,148.23 L569.1,148.38 L569.7,147.8 L570.3,148.44 L570.9,148.41 L571.5,148.24 L572.1,148.45 L572.7,148.61 L573.3,148.95 L573.9,148.15 L574.5,148.7 L575.1,148.53 L575.7,148.56 L576.3,149.01 L576.9,148.96 L577.5,148.46 L578.1,148.73 L578.7,148.93 L579.3,148.5 L579.9,149.22 L580.5,149 L581.1,149.12 L581.7,149.23 L582.3,149.73" stroke="#000" stroke-width="3.6" fill="none" stroke-linejoin="round" />
<path d="M519.3,124.2 L519.9,124.82 L520.5,126.22 L521.1,126.36 L521.7,127.14 L522.3,127.62 L522.9,129.04 L523.5,129.42 L524.1,130.06 L524.7,130.52 L525.3,130.95 L525.9,131.26 L526.5,131.76 L527.1,132.61 L527.7,133 L528.3,133.91 L528.9,133.67 L529.5,134.21 L530.1,134.5 L530.7,135.65 L531.3,135.32 L531.9,136.34 L532.5,136.96 L533.1,136.9 L533.7,137.56 L534.3,137.11 L534.9,138.01 L535.5,138.01 L536.1,138.91 L536.7,139.21 L537.3,139.32 L537.9,140.15 L538.5,140.3 L539.1,140.34 L539.7,140.65 L540.3,140.66 L540.9,141.33 L541.5,142.3 L542.1,141.74 L542.7,142.35 L543.3,142.34 L543.9,143.01 L544.5,143.17 L545.1,143.24 L545.7,143.05 L546.3,143.7 L546.9,144.47 L547.5,144.31 L548.1,144.83 L548.7,144.76 L549.3,144.61 L549.9,145.54 L550.5,145.75 L551.1,145.73 L551.7,146.03 L552.3,146.46 L552.9,146.43 L553.5,146.93 L554.1,146.98 L554.7,146.56 L555.3,147.42 L555.9,147.48 L556.5,147.6 L557.1,148.16 L557.7,148.08 L558.3,148.56 L558.9,148.9 L559.5,148.78 L560.1,148.44 L560.7,148.84 L561.3,149.47 L561.9,149.27 L562.5,149.24 L563.1,149.59 L563.7,149.89 L564.3,149.94 L564.9,150.18 L565.5,149.86 L566.1,150.14 L566.7,150.25 L567.3,150.43 L567.9,149.92 L568.5,150.57 L569.1,150.34 L569.7,151.24 L570.3,151.38 L570.9,151.51 L571.5,151.34 L572.1,151.04 L572.7,151.56 L573.3,151.3 L573.9,151.62 L574.5,151.25 L575.1,151.43 L575.7,151.82 L576.3,152.29 L576.9,151.84 L577.5,152.6 L578.1,152.83 L578.7,151.71 L579.3,152.17 L579.9,151.97 L580.5,152.3 L581.1,152.26 L581.7,152.49 L582.3,152.88" stroke="#000" stroke-width="1.6" fill="none" stroke-linejoin="round" />
<path d="M519.3,130.77 L519.9,131.11 L520.5,131.6 L521.1,132.21 L521.7,132.78 L522.3,133.45 L522.9,133.79 L523.5,134.41 L524.1,134.32 L524.7,135.37 L525.3,136.07 L525.9,136.01 L526.5,135.93 L527.1,137.15 L527.7,137.04 L528.3,136.63 L528.9,137.84 L529.5,138.46 L530.1,138.76 L530.7,139.38 L531.3,139.56 L531.9,139.77 L532.5,139.5 L533.1,140.11 L533.7,140.83 L534.3,141.31 L534.9,141.14 L535.5,141.58 L536.1,142.21 L536.7,141.81 L537.3,142.1 L537.9,142.91 L538.5,143.34 L539.1,143.4 L539.7,143.14 L540.3,144.1 L540.9,143.97 L541.5,144.82 L542.1,144.85 L542.7,145.22 L543.3,145.58 L543.9,145.49 L544.5,146.13 L545.1,146.5 L545.7,146.49 L546.3,147.01 L546.9,146.67 L547.5,147.36 L548.1,147.39 L548.7,147.25 L549.3,147.74 L549.9,147.82 L550.5,148.03 L551.1,148.43 L551.7,148.93 L552.3,148.72 L552.9,149.05 L553.5,148.78 L554.1,149.44 L554.7,149.94 L555.3,150.02 L555.9,150.11 L556.5,149.99 L557.1,150.03 L557.7,150.47 L558.3,150.27 L558.9,150.47 L559.5,151.28 L560.1,150.88 L560.7,151.84 L561.3,151.03 L561.9,151.73 L562.5,151.4 L563.1,151.93 L563.7,151.71 L564.3,152.16 L564.9,152.22 L565.5,152.26 L566.1,152.67 L566.7,153.08 L567.3,152.57 L567.9,153.12 L568.5,153 L569.1,153.07 L569.7,153.83 L570.3,152.64 L570.9,153.18 L571.5,152.95 L572.1,153.49 L572.7,153.61 L573.3,154.91 L573.9,153.97 L574.5,154.5 L575.1,154.44 L575.7,154.02 L576.3,154.39 L576.9,154.84 L577.5,154.48 L578.1,154.59 L578.7,154.77 L579.3,154.27 L579.9,154.57 L580.5,155.01 L581.1,155.16 L581.7,154.83 L582.3,155.1" stroke="#000" stroke-width="1.6" fill="none" stroke-linejoin="round" />
<path d="M519.3,144.26 L519.9,144.62 L520.5,145.27 L521.1,145.5 L521.7,145.91 L522.3,145.82 L522.9,146.27 L523.5,147 L524.1,146.73 L524.7,147.57 L525.3,147.56 L525.9,147.78 L526.5,148.48 L527.1,148.34 L527.7,148.53 L528.3,148.84 L528.9,149.3 L529.5,150.34 L530.1,149.13 L530.7,149.99 L531.3,150.15 L531.9,150.74 L532.5,150.57 L533.1,150.17 L533.7,151.52 L534.3,151.02 L534.9,151.54 L535.5,151.36 L536.1,151.65 L536.7,152.03 L537.3,152.63 L537.9,152.82 L538.5,152.58 L539.1,153.09 L539.7,153.02 L540.3,153.34 L540.9,153.53 L541.5,153.85 L542.1,153.65 L542.7,153.97 L543.3,154.24 L543.9,154.37 L544.5,154.28 L545.1,155.19 L545.7,154.71 L546.3,155.24 L546.9,155.24 L547.5,155.7 L548.1,154.85 L548.7,156.27 L549.3,155.75 L549.9,155.61 L550.5,156.17 L551.1,156.95 L551.7,156.58 L552.3,156.21 L552.9,156.58 L553.5,157.25 L554.1,156.57 L554.7,157.07 L555.3,157.16 L555.9,158.02 L556.5,157.4 L557.1,158 L557.7,157.52 L558.3,157.59 L558.9,158.24 L559.5,158.23 L560.1,157.62 L560.7,158.42 L561.3,158.52 L561.9,158.23 L562.5,158.56 L563.1,158.66 L563.7,158.51 L564.3,158.56 L564.9,158.61 L565.5,158.8 L566.1,158.55 L566.7,159 L567.3,158.63 L567.9,159.16 L568.5,159.17 L569.1,158.94 L569.7,159.55 L570.3,159.93 L570.9,159.8 L571.5,159.04 L572.1,159.88 L572.7,159.61 L573.3,159.57 L573.9,159.46 L574.5,159.68 L575.1,160.14 L575.7,159.93 L576.3,159.69 L576.9,159.66 L577.5,159.78 L578.1,160.12 L578.7,160.54 L579.3,159.72 L579.9,160.08 L580.5,160.01 L581.1,159.95" stroke="#000" stroke-width="1.8" fill="none" stroke-linejoin="round" />
<path d="M519.3,160.71 L519.9,160.94 L520.5,160.54 L521.1,160.85 L521.7,161.71 L522.3,161.65 L522.9,161.91 L523.5,161.81 L524.1,162.05 L524.7,162.49 L525.3,162.4 L525.9,162.4 L526.5,162.9 L527.1,163.33 L527.7,162.91 L528.3,163.68 L528.9,163.71 L529.5,163.37 L530.1,163.75 L530.7,163.85 L531.3,164.15 L531.9,164.26 L532.5,163.78 L533.1,163.86 L533.7,164.65 L534.3,164.47 L534.9,164.64 L535.5,164.7 L536.1,165.13 L536.7,164.4 L537.3,165.15 L537.9,164.66 L538.5,165.19 L539.1,165.45 L539.7,164.71 L540.3,165.31 L540.9,165.18 L541.5,165.24 L542.1,165.41 L542.7,165.15 L543.3,165.25 L543.9,165.8 L544.5,165.92 L545.1,165.57 L545.7,165.38 L546.3,166.57 L546.9,166.28 L547.5,166.13 L548.1,165.79 L548.7,165.99 L549.3,166.31 L549.9,166.02 L550.5,166.85 L551.1,166.48 L551.7,166.63 L552.3,166.27 L552.9,166.37 L553.5,166.47 L554.1,166.85 L554.7,166.75 L555.3,166.8 L555.9,167.04 L556.5,167.07 L557.1,167.49 L557.7,167.05 L558.3,166.86 L558.9,167.2 L559.5,167.69 L560.1,167.14 L560.7,167.36 L561.3,167.28 L561.9,167.55 L562.5,167.55 L563.1,167.27 L563.7,167.48 L564.3,167.86 L564.9,167.94 L565.5,167.92 L566.1,167.93 L566.7,167.61 L567.3,167.63 L567.9,168.04 L568.5,167.45 L569.1,167.81 L569.7,167.3 L570.3,167.76 L570.9,167.69 L571.5,167.57 L572.1,168.12 L572.7,167.76 L573.3,167.9 L573.9,167.95 L574.5,167.84 L575.1,168.5 L575.7,167.96 L576.3,168.19 L576.9,167.77 L577.5,168.04 L578.1,168.11 L578.7,168.14 L579.3,168.08 L579.9,168.32 L580.5,168.77 L581.1,168.3 L581.7,168.32 L582.3,168.28" stroke="#000" stroke-width="1.7" fill="none" stroke-linejoin="round" />
<path d="M519.3,171.74 L519.9,171.48 L520.5,171.18 L521.1,171.24 L521.7,170.84 L522.3,171.02 L522.9,171.14 L523.5,171.13 L524.1,170.86 L524.7,170.9 L525.3,171.29 L525.9,171.25 L526.5,170.55 L527.1,171.22 L527.7,171.58 L528.3,171.03 L528.9,171.31 L529.5,170.82 L530.1,171.51 L530.7,170.95 L531.3,170.93 L531.9,171.22 L532.5,172.02 L533.1,171.16 L533.7,170.99 L534.3,171.51 L534.9,171.45 L535.5,171.89 L536.1,171.04 L536.7,170.96 L537.3,171.36 L537.9,171.57 L538.5,171.58 L539.1,171.81 L539.7,171.07 L540.3,171.28 L540.9,171.5 L541.5,171.8 L542.1,171.71 L542.7,171.46 L543.3,171.3 L543.9,171.88 L544.5,171.91 L545.1,172.44 L545.7,171.61 L546.3,172.15 L546.9,171.34 L547.5,171.55 L548.1,171.52 L548.7,171.6 L549.3,171.5 L549.9,171.61 L550.5,171.77 L551.1,171.67 L551.7,172.01 L552.3,171.8 L552.9,171.84 L553.5,172.29 L554.1,171.97 L554.7,171.94 L555.3,171.9 L555.9,171.94 L556.5,172.1 L557.1,171.72 L557.7,172.3 L558.3,172.44 L558.9,172.34 L559.5,171.87 L560.1,171.56 L560.7,171.91 L561.3,172.1 L561.9,172.32 L562.5,172.03 L563.1,172.01 L563.7,172.57 L564.3,171.94 L564.9,172.46 L565.5,172.43 L566.1,171.79 L566.7,172.28 L567.3,172.05 L567.9,171.95 L568.5,171.7 L569.1,171.8 L569.7,172.39 L570.3,172.17 L570.9,172.38 L571.5,172 L572.1,172.24 L572.7,172.27 L573.3,171.91 L573.9,171.89 L574.5,172.52 L575.1,172.45 L575.7,172.15 L576.3,172.41 L576.9,172.65 L577.5,173.01 L578.1,172.22 L578.7,172.68 L579.3,173.14 L579.9,172.55 L580.5,172.98 L581.1,171.8 L581.7,173 L582.3,172.59" stroke="#000" stroke-width="1.7" fill="none" stroke-linejoin="round" />
<text x="1.42" y="232" font-size="12.9" fill="#1c1c1c" textLength="9.85" lengthAdjust="spacingAndGlyphs">B</text>
<line x1="49.8" y1="224.5" x2="49.8" y2="407.4" stroke="#000" stroke-width="1.4"/>
<line x1="49.1" y1="404.4" x2="295.2" y2="404.4" stroke="#000" stroke-width="1.4"/>
<line x1="45.2" y1="388" x2="49.8" y2="388" stroke="#000" stroke-width="1.25"/>
<line x1="45.2" y1="347.2" x2="49.8" y2="347.2" stroke="#000" stroke-width="1.25"/>
<line x1="45.2" y1="306.4" x2="49.8" y2="306.4" stroke="#000" stroke-width="1.25"/>
<line x1="45.2" y1="265.6" x2="49.8" y2="265.6" stroke="#000" stroke-width="1.25"/>
<line x1="45.2" y1="224.8" x2="49.8" y2="224.8" stroke="#000" stroke-width="1.25"/>
<line x1="47.8" y1="367.6" x2="49.8" y2="367.6" stroke="#000" stroke-width="1.1"/>
<line x1="47.8" y1="326.8" x2="49.8" y2="326.8" stroke="#000" stroke-width="1.1"/>
<line x1="47.8" y1="286" x2="49.8" y2="286" stroke="#000" stroke-width="1.1"/>
<line x1="47.8" y1="245.2" x2="49.8" y2="245.2" stroke="#000" stroke-width="1.1"/>
<line x1="69" y1="404.4" x2="69" y2="408.2" stroke="#000" stroke-width="1.25"/>
<line x1="87.8" y1="404.4" x2="87.8" y2="408.2" stroke="#000" stroke-width="1.25"/>
<line x1="106.6" y1="404.4" x2="106.6" y2="408.2" stroke="#000" stroke-width="1.25"/>
<line x1="125.4" y1="404.4" x2="125.4" y2="408.2" stroke="#000" stroke-width="1.25"/>
<line x1="144.2" y1="404.4" x2="144.2" y2="408.2" stroke="#000" stroke-width="1.25"/>
<line x1="163" y1="404.4" x2="163" y2="408.2" stroke="#000" stroke-width="1.25"/>
<line x1="181.8" y1="404.4" x2="181.8" y2="408.2" stroke="#000" stroke-width="1.25"/>
<line x1="200.6" y1="404.4" x2="200.6" y2="408.2" stroke="#000" stroke-width="1.25"/>
<line x1="219.4" y1="404.4" x2="219.4" y2="408.2" stroke="#000" stroke-width="1.25"/>
<line x1="238.2" y1="404.4" x2="238.2" y2="408.2" stroke="#000" stroke-width="1.25"/>
<line x1="257" y1="404.4" x2="257" y2="408.2" stroke="#000" stroke-width="1.25"/>
<line x1="275.8" y1="404.4" x2="275.8" y2="408.2" stroke="#000" stroke-width="1.25"/>
<line x1="294.6" y1="404.4" x2="294.6" y2="408.2" stroke="#000" stroke-width="1.25"/>
<text x="36.08" y="391.7" font-size="9.8" fill="#1c1c1c" textLength="5.85" lengthAdjust="spacingAndGlyphs">0</text>
<text x="36.08" y="350.9" font-size="9.8" fill="#1c1c1c" textLength="5.85" lengthAdjust="spacingAndGlyphs">5</text>
<text x="29.13" y="310.1" font-size="9.8" fill="#1c1c1c" textLength="12.86" lengthAdjust="spacingAndGlyphs">10</text>
<text x="29.13" y="269.3" font-size="9.8" fill="#1c1c1c" textLength="12.86" lengthAdjust="spacingAndGlyphs">15</text>
<text x="29.44" y="228.5" font-size="9.8" fill="#1c1c1c" textLength="12.54" lengthAdjust="spacingAndGlyphs">20</text>
<text x="60.34" y="421.1" font-size="9.8" fill="#1c1c1c" textLength="14.77" lengthAdjust="spacingAndGlyphs">-40</text>
<text x="97.94" y="421.1" font-size="9.8" fill="#1c1c1c" textLength="14.77" lengthAdjust="spacingAndGlyphs">-20</text>
<text x="142.4" y="421.1" font-size="9.8" fill="#1c1c1c" textLength="5.62" lengthAdjust="spacingAndGlyphs">0</text>
<text x="175.99" y="421.1" font-size="9.8" fill="#1c1c1c" textLength="12.54" lengthAdjust="spacingAndGlyphs">20</text>
<text x="213.87" y="421.1" font-size="9.8" fill="#1c1c1c" textLength="12.24" lengthAdjust="spacingAndGlyphs">40</text>
<text x="251.19" y="421.1" font-size="9.8" fill="#1c1c1c" textLength="12.54" lengthAdjust="spacingAndGlyphs">60</text>
<text x="288.85" y="421.1" font-size="9.8" fill="#1c1c1c" textLength="12.48" lengthAdjust="spacingAndGlyphs">80</text>
<text x="114.61" y="436.1" font-size="9.8" fill="#1c1c1c" textLength="111.1" lengthAdjust="spacingAndGlyphs">Membrane potential (mV)</text>
<text transform="translate(14.1 364.8) rotate(-90)" x="-0.49" y="0" font-size="9.8" fill="#1c1c1c" textLength="101.2" lengthAdjust="spacingAndGlyphs">Current density (pA/pF)</text>
<line x1="72.11" y1="384.65" x2="83.49" y2="374.38" stroke="#000" stroke-width="2.1"/>
<line x1="91.16" y1="367.98" x2="102.04" y2="359.63" stroke="#000" stroke-width="2.1"/>
<line x1="109.11" y1="352.67" x2="121.69" y2="336.83" stroke="#000" stroke-width="2.1"/>
<line x1="127.69" y1="328.84" x2="140.71" y2="310.48" stroke="#000" stroke-width="2.1"/>
<line x1="146.3" y1="302.19" x2="159.7" y2="281.24" stroke="#000" stroke-width="2.1"/>
<line x1="165.83" y1="273.38" x2="177.77" y2="260.67" stroke="#000" stroke-width="2.1"/>
<line x1="184.48" y1="260.81" x2="196.72" y2="274.88" stroke="#000" stroke-width="2.1"/>
<line x1="203.62" y1="282.11" x2="215.18" y2="293.15" stroke="#000" stroke-width="2.1"/>
<line x1="222.19" y1="300.28" x2="234.21" y2="313.33" stroke="#000" stroke-width="2.1"/>
<line x1="241.06" y1="320.61" x2="252.94" y2="332.99" stroke="#000" stroke-width="2.1"/>
<line x1="260.22" y1="339.82" x2="271.38" y2="349.27" stroke="#000" stroke-width="2.1"/>
<line x1="72.63" y1="385.34" x2="82.97" y2="378.83" stroke="#000" stroke-width="2.1"/>
<line x1="91.59" y1="373.78" x2="101.61" y2="368.35" stroke="#000" stroke-width="2.1"/>
<line x1="110.23" y1="363.3" x2="120.57" y2="356.8" stroke="#000" stroke-width="2.1"/>
<line x1="129.79" y1="353.81" x2="138.61" y2="353.24" stroke="#000" stroke-width="2.1"/>
<line x1="148.26" y1="351.09" x2="157.74" y2="347.39" stroke="#000" stroke-width="2.1"/>
<line x1="167.4" y1="345.46" x2="176.2" y2="345.27" stroke="#000" stroke-width="2.1"/>
<line x1="186.18" y1="345.59" x2="195.02" y2="346.36" stroke="#000" stroke-width="2.1"/>
<line x1="204.97" y1="347.33" x2="213.83" y2="348.29" stroke="#000" stroke-width="2.1"/>
<line x1="223.42" y1="350.74" x2="232.98" y2="354.68" stroke="#000" stroke-width="2.1"/>
<line x1="242.49" y1="357.64" x2="251.51" y2="359.6" stroke="#000" stroke-width="2.1"/>
<line x1="261.36" y1="361.31" x2="270.24" y2="362.47" stroke="#000" stroke-width="2.1"/>
<line x1="87.9" y1="362.05" x2="87.9" y2="380" stroke="#000" stroke-width="1.1"/>
<line x1="85.3" y1="362.05" x2="88.45" y2="362.05" stroke="#000" stroke-width="1.1"/>
<line x1="85.3" y1="380" x2="88.45" y2="380" stroke="#000" stroke-width="1.1"/>
<line x1="106.7" y1="347.61" x2="106.7" y2="365.56" stroke="#000" stroke-width="1.1"/>
<line x1="104.1" y1="347.61" x2="107.25" y2="347.61" stroke="#000" stroke-width="1.1"/>
<line x1="104.1" y1="365.56" x2="107.25" y2="365.56" stroke="#000" stroke-width="1.1"/>
<line x1="125.5" y1="317.42" x2="125.5" y2="348.42" stroke="#000" stroke-width="1.1"/>
<line x1="122.9" y1="317.42" x2="126.05" y2="317.42" stroke="#000" stroke-width="1.1"/>
<line x1="122.9" y1="348.42" x2="126.05" y2="348.42" stroke="#000" stroke-width="1.1"/>
<line x1="144.3" y1="289.67" x2="144.3" y2="323.13" stroke="#000" stroke-width="1.1"/>
<line x1="141.7" y1="289.67" x2="144.85" y2="289.67" stroke="#000" stroke-width="1.1"/>
<line x1="141.7" y1="323.13" x2="144.85" y2="323.13" stroke="#000" stroke-width="1.1"/>
<line x1="163.1" y1="256.62" x2="163.1" y2="297.42" stroke="#000" stroke-width="1.1"/>
<line x1="160.5" y1="256.62" x2="163.65" y2="256.62" stroke="#000" stroke-width="1.1"/>
<line x1="160.5" y1="297.42" x2="163.65" y2="297.42" stroke="#000" stroke-width="1.1"/>
<line x1="181.9" y1="230.92" x2="181.9" y2="283.14" stroke="#000" stroke-width="1.1"/>
<line x1="179.3" y1="230.92" x2="182.45" y2="230.92" stroke="#000" stroke-width="1.1"/>
<line x1="179.3" y1="283.14" x2="182.45" y2="283.14" stroke="#000" stroke-width="1.1"/>
<line x1="200.7" y1="257.85" x2="200.7" y2="299.46" stroke="#000" stroke-width="1.1"/>
<line x1="198.1" y1="257.85" x2="201.25" y2="257.85" stroke="#000" stroke-width="1.1"/>
<line x1="198.1" y1="299.46" x2="201.25" y2="299.46" stroke="#000" stroke-width="1.1"/>
<line x1="219.5" y1="279.47" x2="219.5" y2="313.74" stroke="#000" stroke-width="1.1"/>
<line x1="216.9" y1="279.47" x2="220.05" y2="279.47" stroke="#000" stroke-width="1.1"/>
<line x1="216.9" y1="313.74" x2="220.05" y2="313.74" stroke="#000" stroke-width="1.1"/>
<line x1="238.3" y1="303.95" x2="238.3" y2="330.06" stroke="#000" stroke-width="1.1"/>
<line x1="235.7" y1="303.95" x2="238.85" y2="303.95" stroke="#000" stroke-width="1.1"/>
<line x1="235.7" y1="330.06" x2="238.85" y2="330.06" stroke="#000" stroke-width="1.1"/>
<line x1="257.1" y1="327.62" x2="257.1" y2="345.57" stroke="#000" stroke-width="1.1"/>
<line x1="254.5" y1="327.62" x2="257.65" y2="327.62" stroke="#000" stroke-width="1.1"/>
<line x1="254.5" y1="345.57" x2="257.65" y2="345.57" stroke="#000" stroke-width="1.1"/>
<line x1="275.9" y1="348.42" x2="275.9" y2="356.58" stroke="#000" stroke-width="1.1"/>
<line x1="273.3" y1="348.42" x2="276.45" y2="348.42" stroke="#000" stroke-width="1.1"/>
<line x1="273.3" y1="356.58" x2="276.45" y2="356.58" stroke="#000" stroke-width="1.1"/>
<line x1="125.5" y1="345.16" x2="125.5" y2="363.11" stroke="#000" stroke-width="1.1"/>
<line x1="122.9" y1="345.16" x2="126.05" y2="345.16" stroke="#000" stroke-width="1.1"/>
<line x1="122.9" y1="363.11" x2="126.05" y2="363.11" stroke="#000" stroke-width="1.1"/>
<line x1="144.3" y1="343.94" x2="144.3" y2="361.89" stroke="#000" stroke-width="1.1"/>
<line x1="141.7" y1="343.94" x2="144.85" y2="343.94" stroke="#000" stroke-width="1.1"/>
<line x1="141.7" y1="361.89" x2="144.85" y2="361.89" stroke="#000" stroke-width="1.1"/>
<line x1="163.1" y1="335.78" x2="163.1" y2="355.36" stroke="#000" stroke-width="1.1"/>
<line x1="160.5" y1="335.78" x2="163.65" y2="335.78" stroke="#000" stroke-width="1.1"/>
<line x1="160.5" y1="355.36" x2="163.65" y2="355.36" stroke="#000" stroke-width="1.1"/>
<line x1="181.9" y1="341.08" x2="181.9" y2="349.24" stroke="#000" stroke-width="1.1"/>
<line x1="179.3" y1="341.08" x2="182.45" y2="341.08" stroke="#000" stroke-width="1.1"/>
<line x1="179.3" y1="349.24" x2="182.45" y2="349.24" stroke="#000" stroke-width="1.1"/>
<line x1="200.7" y1="342.71" x2="200.7" y2="350.87" stroke="#000" stroke-width="1.1"/>
<line x1="198.1" y1="342.71" x2="201.25" y2="342.71" stroke="#000" stroke-width="1.1"/>
<line x1="198.1" y1="350.87" x2="201.25" y2="350.87" stroke="#000" stroke-width="1.1"/>
<line x1="219.5" y1="342.3" x2="219.5" y2="355.36" stroke="#000" stroke-width="1.1"/>
<line x1="216.9" y1="342.3" x2="220.05" y2="342.3" stroke="#000" stroke-width="1.1"/>
<line x1="216.9" y1="355.36" x2="220.05" y2="355.36" stroke="#000" stroke-width="1.1"/>
<rect x="84.3" y="368.13" width="5.8" height="5.8" fill="#000" stroke="none" stroke-width="0"/>
<rect x="103.1" y="353.68" width="5.8" height="5.8" fill="#000" stroke="none" stroke-width="0"/>
<rect x="121.9" y="330.02" width="5.8" height="5.8" fill="#000" stroke="none" stroke-width="0"/>
<rect x="140.7" y="303.5" width="5.8" height="5.8" fill="#000" stroke="none" stroke-width="0"/>
<rect x="159.5" y="274.12" width="5.8" height="5.8" fill="#000" stroke="none" stroke-width="0"/>
<rect x="178.3" y="254.13" width="5.8" height="5.8" fill="#000" stroke="none" stroke-width="0"/>
<rect x="197.1" y="275.76" width="5.8" height="5.8" fill="#000" stroke="none" stroke-width="0"/>
<rect x="215.9" y="293.71" width="5.8" height="5.8" fill="#000" stroke="none" stroke-width="0"/>
<rect x="234.7" y="314.11" width="5.8" height="5.8" fill="#000" stroke="none" stroke-width="0"/>
<rect x="253.5" y="333.69" width="5.8" height="5.8" fill="#000" stroke="none" stroke-width="0"/>
<rect x="272.3" y="349.6" width="5.8" height="5.8" fill="#000" stroke="none" stroke-width="0"/>
<rect x="66.08" y="385.68" width="4.65" height="4.65" fill="#fff" stroke="#000" stroke-width="1.15"/>
<rect x="84.87" y="373.84" width="4.65" height="4.65" fill="#fff" stroke="#000" stroke-width="1.15"/>
<rect x="103.67" y="363.64" width="4.65" height="4.65" fill="#fff" stroke="#000" stroke-width="1.15"/>
<rect x="122.47" y="351.81" width="4.65" height="4.65" fill="#fff" stroke="#000" stroke-width="1.15"/>
<rect x="141.27" y="350.59" width="4.65" height="4.65" fill="#fff" stroke="#000" stroke-width="1.15"/>
<rect x="160.07" y="343.24" width="4.65" height="4.65" fill="#fff" stroke="#000" stroke-width="1.15"/>
<rect x="178.87" y="342.83" width="4.65" height="4.65" fill="#fff" stroke="#000" stroke-width="1.15"/>
<rect x="197.67" y="344.47" width="4.65" height="4.65" fill="#fff" stroke="#000" stroke-width="1.15"/>
<rect x="216.47" y="346.51" width="4.65" height="4.65" fill="#fff" stroke="#000" stroke-width="1.15"/>
<rect x="235.27" y="354.26" width="4.65" height="4.65" fill="#fff" stroke="#000" stroke-width="1.15"/>
<rect x="254.07" y="358.34" width="4.65" height="4.65" fill="#fff" stroke="#000" stroke-width="1.15"/>
<rect x="272.87" y="360.79" width="4.65" height="4.65" fill="#fff" stroke="#000" stroke-width="1.15"/>
<line x1="62.4" y1="231.9" x2="90.2" y2="231.9" stroke="#000" stroke-width="2.3"/>
<rect x="74" y="229.6" width="4.6" height="4.6" fill="#000" stroke="none" stroke-width="0"/>
<line x1="62.4" y1="244.3" x2="90.2" y2="244.3" stroke="#000" stroke-width="2.3"/>
<rect x="74.45" y="242.45" width="3.7" height="3.7" fill="#fff" stroke="#000" stroke-width="1.1"/>
<text x="103.08" y="382.3" font-size="9.2" fill="#1c1c1c" textLength="6.18" lengthAdjust="spacingAndGlyphs">b</text>
<text x="122.26" y="376.8" font-size="9.2" fill="#1c1c1c" textLength="5.47" lengthAdjust="spacingAndGlyphs">c</text>
<text x="141.06" y="374.4" font-size="9.2" fill="#1c1c1c" textLength="5.47" lengthAdjust="spacingAndGlyphs">c</text>
<text x="159.86" y="368.8" font-size="9.2" fill="#1c1c1c" textLength="5.47" lengthAdjust="spacingAndGlyphs">c</text>
<text x="178.66" y="364.7" font-size="9.2" fill="#1c1c1c" textLength="5.47" lengthAdjust="spacingAndGlyphs">c</text>
<text x="197.46" y="363.9" font-size="9.2" fill="#1c1c1c" textLength="5.47" lengthAdjust="spacingAndGlyphs">c</text>
<text x="216.26" y="370" font-size="9.2" fill="#1c1c1c" textLength="5.47" lengthAdjust="spacingAndGlyphs">c</text>
<text x="235.06" y="374.1" font-size="9.2" fill="#1c1c1c" textLength="5.47" lengthAdjust="spacingAndGlyphs">c</text>
<text x="253.86" y="378.2" font-size="9.2" fill="#1c1c1c" textLength="5.47" lengthAdjust="spacingAndGlyphs">c</text>
<text x="272.28" y="380.7" font-size="9.2" fill="#1c1c1c" textLength="6.18" lengthAdjust="spacingAndGlyphs">b</text>
<text x="330.29" y="232" font-size="12.9" fill="#1c1c1c" textLength="10.32" lengthAdjust="spacingAndGlyphs">C</text>
<line x1="378" y1="223.6" x2="378" y2="407.2" stroke="#000" stroke-width="1.4"/>
<line x1="377.3" y1="404.2" x2="623" y2="404.2" stroke="#000" stroke-width="1.4"/>
<line x1="373.4" y1="387.4" x2="378" y2="387.4" stroke="#000" stroke-width="1.25"/>
<line x1="373.4" y1="354.7" x2="378" y2="354.7" stroke="#000" stroke-width="1.25"/>
<line x1="373.4" y1="322" x2="378" y2="322" stroke="#000" stroke-width="1.25"/>
<line x1="373.4" y1="289.3" x2="378" y2="289.3" stroke="#000" stroke-width="1.25"/>
<line x1="373.4" y1="256.6" x2="378" y2="256.6" stroke="#000" stroke-width="1.25"/>
<line x1="373.4" y1="223.9" x2="378" y2="223.9" stroke="#000" stroke-width="1.25"/>
<line x1="376" y1="403.75" x2="378" y2="403.75" stroke="#000" stroke-width="1.1"/>
<line x1="376" y1="371.05" x2="378" y2="371.05" stroke="#000" stroke-width="1.1"/>
<line x1="376" y1="338.35" x2="378" y2="338.35" stroke="#000" stroke-width="1.1"/>
<line x1="376" y1="305.65" x2="378" y2="305.65" stroke="#000" stroke-width="1.1"/>
<line x1="376" y1="272.95" x2="378" y2="272.95" stroke="#000" stroke-width="1.1"/>
<line x1="376" y1="240.25" x2="378" y2="240.25" stroke="#000" stroke-width="1.1"/>
<line x1="396.8" y1="404.2" x2="396.8" y2="408" stroke="#000" stroke-width="1.25"/>
<line x1="415.6" y1="404.2" x2="415.6" y2="408" stroke="#000" stroke-width="1.25"/>
<line x1="434.4" y1="404.2" x2="434.4" y2="408" stroke="#000" stroke-width="1.25"/>
<line x1="453.2" y1="404.2" x2="453.2" y2="408" stroke="#000" stroke-width="1.25"/>
<line x1="472" y1="404.2" x2="472" y2="408" stroke="#000" stroke-width="1.25"/>
<line x1="490.8" y1="404.2" x2="490.8" y2="408" stroke="#000" stroke-width="1.25"/>
<line x1="509.6" y1="404.2" x2="509.6" y2="408" stroke="#000" stroke-width="1.25"/>
<line x1="528.4" y1="404.2" x2="528.4" y2="408" stroke="#000" stroke-width="1.25"/>
<line x1="547.2" y1="404.2" x2="547.2" y2="408" stroke="#000" stroke-width="1.25"/>
<line x1="566" y1="404.2" x2="566" y2="408" stroke="#000" stroke-width="1.25"/>
<line x1="584.8" y1="404.2" x2="584.8" y2="408" stroke="#000" stroke-width="1.25"/>
<line x1="603.6" y1="404.2" x2="603.6" y2="408" stroke="#000" stroke-width="1.25"/>
<line x1="622.4" y1="404.2" x2="622.4" y2="408" stroke="#000" stroke-width="1.25"/>
<text x="364.18" y="391.1" font-size="9.8" fill="#1c1c1c" textLength="5.85" lengthAdjust="spacingAndGlyphs">0</text>
<text x="357.23" y="358.4" font-size="9.8" fill="#1c1c1c" textLength="12.86" lengthAdjust="spacingAndGlyphs">10</text>
<text x="357.54" y="325.7" font-size="9.8" fill="#1c1c1c" textLength="12.54" lengthAdjust="spacingAndGlyphs">20</text>
<text x="357.65" y="293" font-size="9.8" fill="#1c1c1c" textLength="12.42" lengthAdjust="spacingAndGlyphs">30</text>
<text x="357.82" y="260.3" font-size="9.8" fill="#1c1c1c" textLength="12.24" lengthAdjust="spacingAndGlyphs">40</text>
<text x="357.65" y="227.6" font-size="9.8" fill="#1c1c1c" textLength="12.42" lengthAdjust="spacingAndGlyphs">50</text>
<text x="388.14" y="421.1" font-size="9.8" fill="#1c1c1c" textLength="14.77" lengthAdjust="spacingAndGlyphs">-40</text>
<text x="425.74" y="421.1" font-size="9.8" fill="#1c1c1c" textLength="14.77" lengthAdjust="spacingAndGlyphs">-20</text>
<text x="470.2" y="421.1" font-size="9.8" fill="#1c1c1c" textLength="5.62" lengthAdjust="spacingAndGlyphs">0</text>
<text x="503.79" y="421.1" font-size="9.8" fill="#1c1c1c" textLength="12.54" lengthAdjust="spacingAndGlyphs">20</text>
<text x="541.67" y="421.1" font-size="9.8" fill="#1c1c1c" textLength="12.24" lengthAdjust="spacingAndGlyphs">40</text>
<text x="578.99" y="421.1" font-size="9.8" fill="#1c1c1c" textLength="12.54" lengthAdjust="spacingAndGlyphs">60</text>
<text x="616.65" y="421.1" font-size="9.8" fill="#1c1c1c" textLength="12.48" lengthAdjust="spacingAndGlyphs">80</text>
<text x="434.11" y="440.6" font-size="9.8" fill="#1c1c1c" textLength="111.41" lengthAdjust="spacingAndGlyphs">Membrane potential (mV)</text>
<text transform="translate(343.5 378.9) rotate(-90)" x="-0.2" y="0" font-size="9.8" fill="#1c1c1c" textLength="119.74" lengthAdjust="spacingAndGlyphs">Tail current density (pA/pF)</text>
<line x1="420.16" y1="385.34" x2="429.84" y2="380.96" stroke="#000" stroke-width="2.1"/>
<line x1="438.82" y1="376.55" x2="448.78" y2="371.27" stroke="#000" stroke-width="2.1"/>
<line x1="457.37" y1="366.17" x2="467.83" y2="359.26" stroke="#000" stroke-width="2.1"/>
<line x1="475.41" y1="352.85" x2="487.39" y2="340.04" stroke="#000" stroke-width="2.1"/>
<line x1="493.72" y1="332.33" x2="506.68" y2="314.29" stroke="#000" stroke-width="2.1"/>
<line x1="512.8" y1="306.39" x2="525.2" y2="291.51" stroke="#000" stroke-width="2.1"/>
<line x1="532.27" y1="284.5" x2="543.33" y2="275.46" stroke="#000" stroke-width="2.1"/>
<line x1="551.87" y1="270.51" x2="561.33" y2="266.89" stroke="#000" stroke-width="2.1"/>
<line x1="570.96" y1="264.5" x2="579.84" y2="263.42" stroke="#000" stroke-width="2.1"/>
<line x1="589.62" y1="261.47" x2="598.78" y2="258.92" stroke="#000" stroke-width="2.1"/>
<line x1="401.8" y1="387.4" x2="410.6" y2="387.4" stroke="#000" stroke-width="2.1"/>
<line x1="420.56" y1="386.75" x2="429.44" y2="385.59" stroke="#000" stroke-width="2.1"/>
<line x1="439.15" y1="383.38" x2="448.45" y2="380.3" stroke="#000" stroke-width="2.1"/>
<line x1="457.88" y1="376.98" x2="467.32" y2="373.46" stroke="#000" stroke-width="2.1"/>
<line x1="476.71" y1="370.02" x2="486.09" y2="366.68" stroke="#000" stroke-width="2.1"/>
<line x1="495.47" y1="363.21" x2="504.93" y2="359.59" stroke="#000" stroke-width="2.1"/>
<line x1="513.98" y1="355.4" x2="524.02" y2="349.91" stroke="#000" stroke-width="2.1"/>
<line x1="532.8" y1="345.13" x2="542.8" y2="339.74" stroke="#000" stroke-width="2.1"/>
<line x1="551.92" y1="335.73" x2="561.28" y2="332.47" stroke="#000" stroke-width="2.1"/>
<line x1="570.85" y1="329.61" x2="579.95" y2="327.31" stroke="#000" stroke-width="2.1"/>
<line x1="589.76" y1="325.44" x2="598.64" y2="324.28" stroke="#000" stroke-width="2.1"/>
<line x1="453.9" y1="364.02" x2="453.9" y2="373.83" stroke="#000" stroke-width="1.1"/>
<line x1="451.3" y1="364.02" x2="454.45" y2="364.02" stroke="#000" stroke-width="1.1"/>
<line x1="451.3" y1="373.83" x2="454.45" y2="373.83" stroke="#000" stroke-width="1.1"/>
<line x1="472.7" y1="347.67" x2="472.7" y2="365.33" stroke="#000" stroke-width="1.1"/>
<line x1="470.1" y1="347.67" x2="473.25" y2="347.67" stroke="#000" stroke-width="1.1"/>
<line x1="470.1" y1="365.33" x2="473.25" y2="365.33" stroke="#000" stroke-width="1.1"/>
<line x1="491.5" y1="322.33" x2="491.5" y2="350.45" stroke="#000" stroke-width="1.1"/>
<line x1="488.9" y1="322.33" x2="492.05" y2="322.33" stroke="#000" stroke-width="1.1"/>
<line x1="488.9" y1="350.45" x2="492.05" y2="350.45" stroke="#000" stroke-width="1.1"/>
<line x1="510.3" y1="293.55" x2="510.3" y2="326.9" stroke="#000" stroke-width="1.1"/>
<line x1="507.7" y1="293.55" x2="510.85" y2="293.55" stroke="#000" stroke-width="1.1"/>
<line x1="507.7" y1="326.9" x2="510.85" y2="326.9" stroke="#000" stroke-width="1.1"/>
<line x1="529.1" y1="269.03" x2="529.1" y2="306.3" stroke="#000" stroke-width="1.1"/>
<line x1="526.5" y1="269.03" x2="529.65" y2="269.03" stroke="#000" stroke-width="1.1"/>
<line x1="526.5" y1="306.3" x2="529.65" y2="306.3" stroke="#000" stroke-width="1.1"/>
<line x1="547.9" y1="252.68" x2="547.9" y2="291.92" stroke="#000" stroke-width="1.1"/>
<line x1="545.3" y1="252.68" x2="548.45" y2="252.68" stroke="#000" stroke-width="1.1"/>
<line x1="545.3" y1="291.92" x2="548.45" y2="291.92" stroke="#000" stroke-width="1.1"/>
<line x1="566.7" y1="246.46" x2="566.7" y2="283.74" stroke="#000" stroke-width="1.1"/>
<line x1="564.1" y1="246.46" x2="567.25" y2="246.46" stroke="#000" stroke-width="1.1"/>
<line x1="564.1" y1="283.74" x2="567.25" y2="283.74" stroke="#000" stroke-width="1.1"/>
<line x1="585.5" y1="242.54" x2="585.5" y2="283.09" stroke="#000" stroke-width="1.1"/>
<line x1="582.9" y1="242.54" x2="586.05" y2="242.54" stroke="#000" stroke-width="1.1"/>
<line x1="582.9" y1="283.09" x2="586.05" y2="283.09" stroke="#000" stroke-width="1.1"/>
<line x1="604.3" y1="235.67" x2="604.3" y2="279.49" stroke="#000" stroke-width="1.1"/>
<line x1="601.7" y1="235.67" x2="604.85" y2="235.67" stroke="#000" stroke-width="1.1"/>
<line x1="601.7" y1="279.49" x2="604.85" y2="279.49" stroke="#000" stroke-width="1.1"/>
<line x1="453.9" y1="375.46" x2="453.9" y2="382" stroke="#000" stroke-width="1.1"/>
<line x1="451.3" y1="375.46" x2="454.45" y2="375.46" stroke="#000" stroke-width="1.1"/>
<line x1="451.3" y1="382" x2="454.45" y2="382" stroke="#000" stroke-width="1.1"/>
<line x1="472.7" y1="361.89" x2="472.7" y2="381.51" stroke="#000" stroke-width="1.1"/>
<line x1="470.1" y1="361.89" x2="473.25" y2="361.89" stroke="#000" stroke-width="1.1"/>
<line x1="470.1" y1="381.51" x2="473.25" y2="381.51" stroke="#000" stroke-width="1.1"/>
<line x1="491.5" y1="357.15" x2="491.5" y2="372.85" stroke="#000" stroke-width="1.1"/>
<line x1="488.9" y1="357.15" x2="492.05" y2="357.15" stroke="#000" stroke-width="1.1"/>
<line x1="488.9" y1="372.85" x2="492.05" y2="372.85" stroke="#000" stroke-width="1.1"/>
<line x1="510.3" y1="350.29" x2="510.3" y2="365.33" stroke="#000" stroke-width="1.1"/>
<line x1="507.7" y1="350.29" x2="510.85" y2="350.29" stroke="#000" stroke-width="1.1"/>
<line x1="507.7" y1="365.33" x2="510.85" y2="365.33" stroke="#000" stroke-width="1.1"/>
<line x1="529.1" y1="338.68" x2="529.1" y2="356.33" stroke="#000" stroke-width="1.1"/>
<line x1="526.5" y1="338.68" x2="529.65" y2="338.68" stroke="#000" stroke-width="1.1"/>
<line x1="526.5" y1="356.33" x2="529.65" y2="356.33" stroke="#000" stroke-width="1.1"/>
<line x1="547.9" y1="326.9" x2="547.9" y2="347.83" stroke="#000" stroke-width="1.1"/>
<line x1="545.3" y1="326.9" x2="548.45" y2="326.9" stroke="#000" stroke-width="1.1"/>
<line x1="545.3" y1="347.83" x2="548.45" y2="347.83" stroke="#000" stroke-width="1.1"/>
<line x1="566.7" y1="319.71" x2="566.7" y2="341.95" stroke="#000" stroke-width="1.1"/>
<line x1="564.1" y1="319.71" x2="567.25" y2="319.71" stroke="#000" stroke-width="1.1"/>
<line x1="564.1" y1="341.95" x2="567.25" y2="341.95" stroke="#000" stroke-width="1.1"/>
<line x1="585.5" y1="313.99" x2="585.5" y2="338.19" stroke="#000" stroke-width="1.1"/>
<line x1="582.9" y1="313.99" x2="586.05" y2="313.99" stroke="#000" stroke-width="1.1"/>
<line x1="582.9" y1="338.19" x2="586.05" y2="338.19" stroke="#000" stroke-width="1.1"/>
<line x1="604.3" y1="309.74" x2="604.3" y2="337.53" stroke="#000" stroke-width="1.1"/>
<line x1="601.7" y1="309.74" x2="604.85" y2="309.74" stroke="#000" stroke-width="1.1"/>
<line x1="601.7" y1="337.53" x2="604.85" y2="337.53" stroke="#000" stroke-width="1.1"/>
<rect x="431.5" y="376" width="5.8" height="5.8" fill="#000" stroke="none" stroke-width="0"/>
<rect x="450.3" y="366.02" width="5.8" height="5.8" fill="#000" stroke="none" stroke-width="0"/>
<rect x="469.1" y="353.6" width="5.8" height="5.8" fill="#000" stroke="none" stroke-width="0"/>
<rect x="487.9" y="333.49" width="5.8" height="5.8" fill="#000" stroke="none" stroke-width="0"/>
<rect x="506.7" y="307.33" width="5.8" height="5.8" fill="#000" stroke="none" stroke-width="0"/>
<rect x="525.5" y="284.76" width="5.8" height="5.8" fill="#000" stroke="none" stroke-width="0"/>
<rect x="544.3" y="269.4" width="5.8" height="5.8" fill="#000" stroke="none" stroke-width="0"/>
<rect x="563.1" y="262.2" width="5.8" height="5.8" fill="#000" stroke="none" stroke-width="0"/>
<rect x="581.9" y="259.91" width="5.8" height="5.8" fill="#000" stroke="none" stroke-width="0"/>
<rect x="600.7" y="254.68" width="5.8" height="5.8" fill="#000" stroke="none" stroke-width="0"/>
<rect x="394.48" y="385.07" width="4.65" height="4.65" fill="#fff" stroke="#000" stroke-width="1.15"/>
<rect x="413.28" y="385.07" width="4.65" height="4.65" fill="#fff" stroke="#000" stroke-width="1.15"/>
<rect x="432.07" y="382.62" width="4.65" height="4.65" fill="#fff" stroke="#000" stroke-width="1.15"/>
<rect x="450.88" y="376.41" width="4.65" height="4.65" fill="#fff" stroke="#000" stroke-width="1.15"/>
<rect x="469.68" y="369.38" width="4.65" height="4.65" fill="#fff" stroke="#000" stroke-width="1.15"/>
<rect x="488.48" y="362.68" width="4.65" height="4.65" fill="#fff" stroke="#000" stroke-width="1.15"/>
<rect x="507.28" y="355.48" width="4.65" height="4.65" fill="#fff" stroke="#000" stroke-width="1.15"/>
<rect x="526.08" y="345.18" width="4.65" height="4.65" fill="#fff" stroke="#000" stroke-width="1.15"/>
<rect x="544.88" y="335.04" width="4.65" height="4.65" fill="#fff" stroke="#000" stroke-width="1.15"/>
<rect x="563.68" y="328.5" width="4.65" height="4.65" fill="#fff" stroke="#000" stroke-width="1.15"/>
<rect x="582.48" y="323.76" width="4.65" height="4.65" fill="#fff" stroke="#000" stroke-width="1.15"/>
<rect x="601.28" y="321.31" width="4.65" height="4.65" fill="#fff" stroke="#000" stroke-width="1.15"/>
<line x1="393.4" y1="232.1" x2="420.3" y2="232.1" stroke="#000" stroke-width="2.3"/>
<rect x="403.2" y="229.8" width="4.6" height="4.6" fill="#000" stroke="none" stroke-width="0"/>
<line x1="393.4" y1="245.2" x2="420.3" y2="245.2" stroke="#000" stroke-width="2.3"/>
<rect x="403.65" y="243.35" width="3.7" height="3.7" fill="#fff" stroke="#000" stroke-width="1.1"/>
<text x="429.03" y="231.8" font-size="9.9" fill="#1c1c1c" textLength="30.52" lengthAdjust="spacingAndGlyphs">Control</text>
<text x="428.77" y="243.5" font-size="9.9" fill="#1c1c1c" textLength="63.21" lengthAdjust="spacingAndGlyphs">10 μmol/L ATV</text>
<text x="449.88" y="396.5" font-size="9.2" fill="#1c1c1c" textLength="6.18" lengthAdjust="spacingAndGlyphs">b</text>
<text x="469.16" y="391.8" font-size="9.2" fill="#1c1c1c" textLength="5.47" lengthAdjust="spacingAndGlyphs">c</text>
<text x="488.36" y="384.7" font-size="9.2" fill="#1c1c1c" textLength="5.47" lengthAdjust="spacingAndGlyphs">c</text>
<text x="506.76" y="377.3" font-size="9.2" fill="#1c1c1c" textLength="5.47" lengthAdjust="spacingAndGlyphs">c</text>
<text x="525.16" y="368.4" font-size="9.2" fill="#1c1c1c" textLength="5.47" lengthAdjust="spacingAndGlyphs">c</text>
<text x="545.36" y="362.3" font-size="9.2" fill="#1c1c1c" textLength="5.47" lengthAdjust="spacingAndGlyphs">c</text>
<text x="562.46" y="357.1" font-size="9.2" fill="#1c1c1c" textLength="5.47" lengthAdjust="spacingAndGlyphs">c</text>
<text x="582.16" y="353.1" font-size="9.2" fill="#1c1c1c" textLength="5.47" lengthAdjust="spacingAndGlyphs">c</text>
<text x="601.36" y="349.2" font-size="9.2" fill="#1c1c1c" textLength="5.47" lengthAdjust="spacingAndGlyphs">c</text>
<text x="4.58" y="477" font-size="12.9" fill="#1c1c1c" textLength="10.07" lengthAdjust="spacingAndGlyphs">D</text>
<line x1="49.8" y1="478.85" x2="49.8" y2="659.4" stroke="#000" stroke-width="1.4"/>
<line x1="49.1" y1="656.4" x2="291.38" y2="656.4" stroke="#000" stroke-width="1.4"/>
<line x1="45.2" y1="641.4" x2="49.8" y2="641.4" stroke="#000" stroke-width="1.25"/>
<line x1="45.2" y1="611.9" x2="49.8" y2="611.9" stroke="#000" stroke-width="1.25"/>
<line x1="45.2" y1="582.4" x2="49.8" y2="582.4" stroke="#000" stroke-width="1.25"/>
<line x1="45.2" y1="552.9" x2="49.8" y2="552.9" stroke="#000" stroke-width="1.25"/>
<line x1="45.2" y1="523.4" x2="49.8" y2="523.4" stroke="#000" stroke-width="1.25"/>
<line x1="45.2" y1="493.9" x2="49.8" y2="493.9" stroke="#000" stroke-width="1.25"/>
<line x1="47.8" y1="656.15" x2="49.8" y2="656.15" stroke="#000" stroke-width="1.1"/>
<line x1="47.8" y1="626.65" x2="49.8" y2="626.65" stroke="#000" stroke-width="1.1"/>
<line x1="47.8" y1="597.15" x2="49.8" y2="597.15" stroke="#000" stroke-width="1.1"/>
<line x1="47.8" y1="567.65" x2="49.8" y2="567.65" stroke="#000" stroke-width="1.1"/>
<line x1="47.8" y1="538.15" x2="49.8" y2="538.15" stroke="#000" stroke-width="1.1"/>
<line x1="47.8" y1="508.65" x2="49.8" y2="508.65" stroke="#000" stroke-width="1.1"/>
<line x1="68.06" y1="656.4" x2="68.06" y2="660.2" stroke="#000" stroke-width="1.25"/>
<line x1="86.62" y1="656.4" x2="86.62" y2="660.2" stroke="#000" stroke-width="1.25"/>
<line x1="105.18" y1="656.4" x2="105.18" y2="660.2" stroke="#000" stroke-width="1.25"/>
<line x1="123.74" y1="656.4" x2="123.74" y2="660.2" stroke="#000" stroke-width="1.25"/>
<line x1="142.3" y1="656.4" x2="142.3" y2="660.2" stroke="#000" stroke-width="1.25"/>
<line x1="160.86" y1="656.4" x2="160.86" y2="660.2" stroke="#000" stroke-width="1.25"/>
<line x1="179.42" y1="656.4" x2="179.42" y2="660.2" stroke="#000" stroke-width="1.25"/>
<line x1="197.98" y1="656.4" x2="197.98" y2="660.2" stroke="#000" stroke-width="1.25"/>
<line x1="216.54" y1="656.4" x2="216.54" y2="660.2" stroke="#000" stroke-width="1.25"/>
<line x1="235.1" y1="656.4" x2="235.1" y2="660.2" stroke="#000" stroke-width="1.25"/>
<line x1="253.66" y1="656.4" x2="253.66" y2="660.2" stroke="#000" stroke-width="1.25"/>
<line x1="272.22" y1="656.4" x2="272.22" y2="660.2" stroke="#000" stroke-width="1.25"/>
<line x1="290.78" y1="656.4" x2="290.78" y2="660.2" stroke="#000" stroke-width="1.25"/>
<text x="25.69" y="645.3" font-size="10" fill="#1c1c1c" textLength="14.33" lengthAdjust="spacingAndGlyphs">0.0</text>
<text x="25.68" y="615.8" font-size="10" fill="#1c1c1c" textLength="14.44" lengthAdjust="spacingAndGlyphs">0.2</text>
<text x="25.69" y="586.3" font-size="10" fill="#1c1c1c" textLength="14.22" lengthAdjust="spacingAndGlyphs">0.4</text>
<text x="25.69" y="556.8" font-size="10" fill="#1c1c1c" textLength="14.38" lengthAdjust="spacingAndGlyphs">0.6</text>
<text x="25.69" y="527.3" font-size="10" fill="#1c1c1c" textLength="14.33" lengthAdjust="spacingAndGlyphs">0.8</text>
<text x="25.31" y="497.8" font-size="10" fill="#1c1c1c" textLength="14.72" lengthAdjust="spacingAndGlyphs">1.0</text>
<text x="59.4" y="672.3" font-size="9.8" fill="#1c1c1c" textLength="14.77" lengthAdjust="spacingAndGlyphs">-40</text>
<text x="96.52" y="672.3" font-size="9.8" fill="#1c1c1c" textLength="14.77" lengthAdjust="spacingAndGlyphs">-20</text>
<text x="140.5" y="672.3" font-size="9.8" fill="#1c1c1c" textLength="5.62" lengthAdjust="spacingAndGlyphs">0</text>
<text x="173.61" y="672.3" font-size="9.8" fill="#1c1c1c" textLength="12.54" lengthAdjust="spacingAndGlyphs">20</text>
<text x="211.01" y="672.3" font-size="9.8" fill="#1c1c1c" textLength="12.24" lengthAdjust="spacingAndGlyphs">40</text>
<text x="247.85" y="672.3" font-size="9.8" fill="#1c1c1c" textLength="12.54" lengthAdjust="spacingAndGlyphs">60</text>
<text x="285.03" y="672.3" font-size="9.8" fill="#1c1c1c" textLength="12.48" lengthAdjust="spacingAndGlyphs">80</text>
<text x="115.21" y="686.8" font-size="9.8" fill="#1c1c1c" textLength="110.9" lengthAdjust="spacingAndGlyphs">Membrane potential (mV)</text>
<text transform="translate(13.2 622.9) rotate(-90)" x="-0.8" y="0" font-size="9.8" fill="#1c1c1c" textLength="100.59" lengthAdjust="spacingAndGlyphs">Normalized tail current</text>
<path d="M49.5,640.72 L51.36,640.66 L53.21,640.59 L55.07,640.53 L56.92,640.45 L58.78,640.37 L60.64,640.28 L62.49,640.19 L64.35,640.09 L66.2,639.98 L68.06,639.86 L69.92,639.73 L71.77,639.58 L73.63,639.43 L75.48,639.27 L77.34,639.09 L79.2,638.89 L81.05,638.68 L82.91,638.45 L84.76,638.21 L86.62,637.94 L88.48,637.65 L90.33,637.34 L92.19,637.01 L94.04,636.64 L95.9,636.25 L97.76,635.83 L99.61,635.37 L101.47,634.88 L103.32,634.35 L105.18,633.78 L107.04,633.16 L108.89,632.5 L110.75,631.79 L112.6,631.03 L114.46,630.21 L116.32,629.33 L118.17,628.39 L120.03,627.39 L121.88,626.31 L123.74,625.17 L125.6,623.94 L127.45,622.64 L129.31,621.26 L131.16,619.79 L133.02,618.23 L134.88,616.59 L136.73,614.85 L138.59,613.02 L140.44,611.09 L142.3,609.07 L144.16,606.96 L146.01,604.74 L147.87,602.44 L149.72,600.05 L151.58,597.56 L153.44,595 L155.29,592.35 L157.15,589.63 L159,586.84 L160.86,584 L162.72,581.1 L164.57,578.16 L166.43,575.18 L168.28,572.18 L170.14,569.16 L172,566.14 L173.85,563.12 L175.71,560.12 L177.56,557.14 L179.42,554.2 L181.28,551.3 L183.13,548.46 L184.99,545.67 L186.84,542.95 L188.7,540.3 L190.56,537.74 L192.41,535.25 L194.27,532.86 L196.12,530.56 L197.98,528.34 L199.84,526.23 L201.69,524.21 L203.55,522.28 L205.4,520.45 L207.26,518.71 L209.12,517.07 L210.97,515.51 L212.83,514.04 L214.68,512.66 L216.54,511.36 L218.4,510.13 L220.25,508.99 L222.11,507.91 L223.96,506.91 L225.82,505.97 L227.68,505.09 L229.53,504.27 L231.39,503.51 L233.24,502.8 L235.1,502.14 L236.96,501.52 L238.81,500.95 L240.67,500.42 L242.52,499.93 L244.38,499.47 L246.24,499.05 L248.09,498.66 L249.95,498.29 L251.8,497.96 L253.66,497.65 L255.52,497.36 L257.37,497.09 L259.23,496.85 L261.08,496.62 L262.94,496.41 L264.8,496.21 L266.65,496.03 L268.51,495.87 L270.36,495.72 L272.22,495.57 L274.08,495.44 L275.93,495.32 L277.79,495.21 L279.64,495.11 L281.5,495.02 L283.36,494.93 L285.21,494.85 L287.07,494.77 L288.92,494.71 L290.78,494.64" stroke="#000" stroke-width="2.9" fill="none" stroke-linejoin="round" />
<path d="M49.5,640.18 L51.36,640.1 L53.21,640 L55.07,639.9 L56.92,639.8 L58.78,639.68 L60.64,639.56 L62.49,639.43 L64.35,639.29 L66.2,639.14 L68.06,638.97 L69.92,638.8 L71.77,638.62 L73.63,638.42 L75.48,638.21 L77.34,637.98 L79.2,637.74 L81.05,637.48 L82.91,637.21 L84.76,636.91 L86.62,636.6 L88.48,636.26 L90.33,635.9 L92.19,635.52 L94.04,635.11 L95.9,634.68 L97.76,634.22 L99.61,633.72 L101.47,633.2 L103.32,632.64 L105.18,632.04 L107.04,631.41 L108.89,630.74 L110.75,630.03 L112.6,629.27 L114.46,628.47 L116.32,627.62 L118.17,626.72 L120.03,625.77 L121.88,624.77 L123.74,623.71 L125.6,622.59 L127.45,621.41 L129.31,620.17 L131.16,618.87 L133.02,617.5 L134.88,616.07 L136.73,614.57 L138.59,613 L140.44,611.36 L142.3,609.65 L144.16,607.88 L146.01,606.03 L147.87,604.12 L149.72,602.14 L151.58,600.09 L153.44,597.98 L155.29,595.8 L157.15,593.57 L159,591.28 L160.86,588.95 L162.72,586.56 L164.57,584.13 L166.43,581.66 L168.28,579.16 L170.14,576.63 L172,574.08 L173.85,571.51 L175.71,568.94 L177.56,566.36 L179.42,563.79 L181.28,561.22 L183.13,558.67 L184.99,556.14 L186.84,553.64 L188.7,551.17 L190.56,548.74 L192.41,546.35 L194.27,544.02 L196.12,541.73 L197.98,539.5 L199.84,537.32 L201.69,535.21 L203.55,533.16 L205.4,531.18 L207.26,529.27 L209.12,527.42 L210.97,525.65 L212.83,523.94 L214.68,522.3 L216.54,520.73 L218.4,519.23 L220.25,517.8 L222.11,516.43 L223.96,515.13 L225.82,513.89 L227.68,512.71 L229.53,511.59 L231.39,510.53 L233.24,509.53 L235.1,508.58 L236.96,507.68 L238.81,506.83 L240.67,506.03 L242.52,505.27 L244.38,504.56 L246.24,503.89 L248.09,503.26 L249.95,502.66 L251.8,502.1 L253.66,501.58 L255.52,501.08 L257.37,500.62 L259.23,500.19 L261.08,499.78 L262.94,499.4 L264.8,499.04 L266.65,498.7 L268.51,498.39 L270.36,498.09 L272.22,497.82 L274.08,497.56 L275.93,497.32 L277.79,497.09 L279.64,496.88 L281.5,496.68 L283.36,496.5 L285.21,496.33 L287.07,496.16 L288.92,496.01 L290.78,495.87" stroke="#000" stroke-width="2.9" fill="none" stroke-linejoin="round" />
<line x1="105.88" y1="630.34" x2="105.88" y2="640.66" stroke="#000" stroke-width="1.1"/>
<line x1="103.28" y1="630.34" x2="106.43" y2="630.34" stroke="#000" stroke-width="1.1"/>
<line x1="103.28" y1="640.66" x2="106.43" y2="640.66" stroke="#000" stroke-width="1.1"/>
<line x1="124.44" y1="615.59" x2="124.44" y2="624.44" stroke="#000" stroke-width="1.1"/>
<line x1="121.84" y1="615.59" x2="124.99" y2="615.59" stroke="#000" stroke-width="1.1"/>
<line x1="121.84" y1="624.44" x2="124.99" y2="624.44" stroke="#000" stroke-width="1.1"/>
<line x1="143" y1="597.89" x2="143" y2="617.95" stroke="#000" stroke-width="1.1"/>
<line x1="140.4" y1="597.89" x2="143.55" y2="597.89" stroke="#000" stroke-width="1.1"/>
<line x1="140.4" y1="617.95" x2="143.55" y2="617.95" stroke="#000" stroke-width="1.1"/>
<line x1="161.56" y1="573.99" x2="161.56" y2="603.05" stroke="#000" stroke-width="1.1"/>
<line x1="158.96" y1="573.99" x2="162.11" y2="573.99" stroke="#000" stroke-width="1.1"/>
<line x1="158.96" y1="603.05" x2="162.11" y2="603.05" stroke="#000" stroke-width="1.1"/>
<line x1="180.12" y1="545.52" x2="180.12" y2="555.11" stroke="#000" stroke-width="1.1"/>
<line x1="177.52" y1="545.52" x2="180.67" y2="545.52" stroke="#000" stroke-width="1.1"/>
<line x1="177.52" y1="555.11" x2="180.67" y2="555.11" stroke="#000" stroke-width="1.1"/>
<line x1="180.12" y1="563.23" x2="180.12" y2="583.88" stroke="#000" stroke-width="1.1"/>
<line x1="177.52" y1="563.23" x2="180.67" y2="563.23" stroke="#000" stroke-width="1.1"/>
<line x1="177.52" y1="583.88" x2="180.67" y2="583.88" stroke="#000" stroke-width="1.1"/>
<line x1="198.68" y1="523.4" x2="198.68" y2="529" stroke="#000" stroke-width="1.1"/>
<line x1="196.08" y1="523.4" x2="199.23" y2="523.4" stroke="#000" stroke-width="1.1"/>
<line x1="196.08" y1="529" x2="199.23" y2="529" stroke="#000" stroke-width="1.1"/>
<line x1="198.68" y1="541.99" x2="198.68" y2="558.06" stroke="#000" stroke-width="1.1"/>
<line x1="196.08" y1="541.99" x2="199.23" y2="541.99" stroke="#000" stroke-width="1.1"/>
<line x1="196.08" y1="558.06" x2="199.23" y2="558.06" stroke="#000" stroke-width="1.1"/>
<line x1="217.24" y1="507.91" x2="217.24" y2="511.01" stroke="#000" stroke-width="1.1"/>
<line x1="214.64" y1="507.91" x2="217.79" y2="507.91" stroke="#000" stroke-width="1.1"/>
<line x1="214.64" y1="511.01" x2="217.79" y2="511.01" stroke="#000" stroke-width="1.1"/>
<line x1="217.24" y1="521.92" x2="217.24" y2="532.99" stroke="#000" stroke-width="1.1"/>
<line x1="214.64" y1="521.92" x2="217.79" y2="521.92" stroke="#000" stroke-width="1.1"/>
<line x1="214.64" y1="532.99" x2="217.79" y2="532.99" stroke="#000" stroke-width="1.1"/>
<line x1="235.8" y1="507.91" x2="235.8" y2="514.99" stroke="#000" stroke-width="1.1"/>
<line x1="233.2" y1="507.91" x2="236.35" y2="507.91" stroke="#000" stroke-width="1.1"/>
<line x1="233.2" y1="514.99" x2="236.35" y2="514.99" stroke="#000" stroke-width="1.1"/>
<rect x="102.08" y="627.24" width="6.2" height="6.2" fill="#000" stroke="none" stroke-width="0"/>
<rect x="120.64" y="619.12" width="6.2" height="6.2" fill="#000" stroke="none" stroke-width="0"/>
<rect x="139.2" y="602.9" width="6.2" height="6.2" fill="#000" stroke="none" stroke-width="0"/>
<rect x="157.76" y="580.77" width="6.2" height="6.2" fill="#000" stroke="none" stroke-width="0"/>
<rect x="176.32" y="552.01" width="6.2" height="6.2" fill="#000" stroke="none" stroke-width="0"/>
<rect x="194.88" y="525.9" width="6.2" height="6.2" fill="#000" stroke="none" stroke-width="0"/>
<rect x="213.44" y="507.91" width="6.2" height="6.2" fill="#000" stroke="none" stroke-width="0"/>
<rect x="232" y="496.85" width="6.2" height="6.2" fill="#000" stroke="none" stroke-width="0"/>
<rect x="250.56" y="495.52" width="6.2" height="6.2" fill="#000" stroke="none" stroke-width="0"/>
<rect x="269.12" y="492.27" width="6.2" height="6.2" fill="#000" stroke="none" stroke-width="0"/>
<rect x="65.51" y="638.85" width="5.1" height="5.1" fill="#fff" stroke="#000" stroke-width="1.3"/>
<rect x="84.07" y="638.85" width="5.1" height="5.1" fill="#fff" stroke="#000" stroke-width="1.3"/>
<rect x="102.63" y="632.51" width="5.1" height="5.1" fill="#fff" stroke="#000" stroke-width="1.3"/>
<rect x="121.19" y="617.02" width="5.1" height="5.1" fill="#fff" stroke="#000" stroke-width="1.3"/>
<rect x="139.75" y="598.43" width="5.1" height="5.1" fill="#fff" stroke="#000" stroke-width="1.3"/>
<rect x="158.31" y="580.44" width="5.1" height="5.1" fill="#fff" stroke="#000" stroke-width="1.3"/>
<rect x="176.87" y="560.67" width="5.1" height="5.1" fill="#fff" stroke="#000" stroke-width="1.3"/>
<rect x="195.43" y="539.43" width="5.1" height="5.1" fill="#fff" stroke="#000" stroke-width="1.3"/>
<rect x="213.99" y="519.37" width="5.1" height="5.1" fill="#fff" stroke="#000" stroke-width="1.3"/>
<rect x="232.55" y="505.36" width="5.1" height="5.1" fill="#fff" stroke="#000" stroke-width="1.3"/>
<rect x="251.11" y="495.77" width="5.1" height="5.1" fill="#fff" stroke="#000" stroke-width="1.3"/>
<rect x="269.67" y="491.35" width="5.1" height="5.1" fill="#fff" stroke="#000" stroke-width="1.3"/>
<rect x="72" y="493.5" width="7.6" height="6.3" fill="#000" stroke="none" stroke-width="0"/>
<rect x="72.7" y="506.1" width="6.2" height="5.6" fill="#fff" stroke="#000" stroke-width="1.3"/>
<text x="84.21" y="500" font-size="9.9" fill="#1c1c1c" textLength="31.87" lengthAdjust="spacingAndGlyphs">Control</text>
<text x="83.95" y="512" font-size="9.9" fill="#1c1c1c" textLength="65.03" lengthAdjust="spacingAndGlyphs">10 μmol/L ATV</text>
<text x="340.03" y="477.6" font-size="12.3" fill="#1c1c1c" textLength="8.08" lengthAdjust="spacingAndGlyphs">E</text>
<line x1="380.6" y1="476.06" x2="380.6" y2="659.9" stroke="#000" stroke-width="1.4"/>
<line x1="379.9" y1="656.9" x2="627.97" y2="656.9" stroke="#000" stroke-width="1.4"/>
<line x1="376" y1="641.8" x2="380.6" y2="641.8" stroke="#000" stroke-width="1.25"/>
<line x1="376" y1="611.72" x2="380.6" y2="611.72" stroke="#000" stroke-width="1.25"/>
<line x1="376" y1="581.64" x2="380.6" y2="581.64" stroke="#000" stroke-width="1.25"/>
<line x1="376" y1="551.56" x2="380.6" y2="551.56" stroke="#000" stroke-width="1.25"/>
<line x1="376" y1="521.48" x2="380.6" y2="521.48" stroke="#000" stroke-width="1.25"/>
<line x1="376" y1="491.4" x2="380.6" y2="491.4" stroke="#000" stroke-width="1.25"/>
<line x1="378.6" y1="656.84" x2="380.6" y2="656.84" stroke="#000" stroke-width="1.1"/>
<line x1="378.6" y1="626.76" x2="380.6" y2="626.76" stroke="#000" stroke-width="1.1"/>
<line x1="378.6" y1="596.68" x2="380.6" y2="596.68" stroke="#000" stroke-width="1.1"/>
<line x1="378.6" y1="566.6" x2="380.6" y2="566.6" stroke="#000" stroke-width="1.1"/>
<line x1="378.6" y1="536.52" x2="380.6" y2="536.52" stroke="#000" stroke-width="1.1"/>
<line x1="378.6" y1="506.44" x2="380.6" y2="506.44" stroke="#000" stroke-width="1.1"/>
<line x1="381" y1="656.9" x2="381" y2="660.7" stroke="#000" stroke-width="1.25"/>
<line x1="400.45" y1="656.9" x2="400.45" y2="660.7" stroke="#000" stroke-width="1.25"/>
<line x1="419.9" y1="656.9" x2="419.9" y2="660.7" stroke="#000" stroke-width="1.25"/>
<line x1="439.35" y1="656.9" x2="439.35" y2="660.7" stroke="#000" stroke-width="1.25"/>
<line x1="458.8" y1="656.9" x2="458.8" y2="660.7" stroke="#000" stroke-width="1.25"/>
<line x1="478.25" y1="656.9" x2="478.25" y2="660.7" stroke="#000" stroke-width="1.25"/>
<line x1="497.7" y1="656.9" x2="497.7" y2="660.7" stroke="#000" stroke-width="1.25"/>
<line x1="517.15" y1="656.9" x2="517.15" y2="660.7" stroke="#000" stroke-width="1.25"/>
<line x1="536.6" y1="656.9" x2="536.6" y2="660.7" stroke="#000" stroke-width="1.25"/>
<line x1="556.05" y1="656.9" x2="556.05" y2="660.7" stroke="#000" stroke-width="1.25"/>
<line x1="575.5" y1="656.9" x2="575.5" y2="660.7" stroke="#000" stroke-width="1.25"/>
<line x1="594.96" y1="656.9" x2="594.96" y2="660.7" stroke="#000" stroke-width="1.25"/>
<line x1="614.41" y1="656.9" x2="614.41" y2="660.7" stroke="#000" stroke-width="1.25"/>
<text x="360.09" y="645.7" font-size="10" fill="#1c1c1c" textLength="14.33" lengthAdjust="spacingAndGlyphs">0.0</text>
<text x="360.08" y="615.62" font-size="10" fill="#1c1c1c" textLength="14.44" lengthAdjust="spacingAndGlyphs">0.2</text>
<text x="360.09" y="585.54" font-size="10" fill="#1c1c1c" textLength="14.22" lengthAdjust="spacingAndGlyphs">0.4</text>
<text x="360.09" y="555.46" font-size="10" fill="#1c1c1c" textLength="14.38" lengthAdjust="spacingAndGlyphs">0.6</text>
<text x="360.09" y="525.38" font-size="10" fill="#1c1c1c" textLength="14.33" lengthAdjust="spacingAndGlyphs">0.8</text>
<text x="359.71" y="495.3" font-size="10" fill="#1c1c1c" textLength="14.72" lengthAdjust="spacingAndGlyphs">1.0</text>
<text x="371.02" y="670.8" font-size="9.8" fill="#1c1c1c" textLength="21.32" lengthAdjust="spacingAndGlyphs">-150</text>
<text x="409.22" y="670.8" font-size="9.8" fill="#1c1c1c" textLength="21.32" lengthAdjust="spacingAndGlyphs">-120</text>
<text x="453.83" y="670.8" font-size="9.8" fill="#1c1c1c" textLength="15.2" lengthAdjust="spacingAndGlyphs">-90</text>
<text x="491.23" y="670.8" font-size="9.8" fill="#1c1c1c" textLength="15.09" lengthAdjust="spacingAndGlyphs">-60</text>
<text x="529.74" y="670.8" font-size="9.8" fill="#1c1c1c" textLength="14.88" lengthAdjust="spacingAndGlyphs">-30</text>
<text x="572.45" y="670.8" font-size="9.8" fill="#1c1c1c" textLength="6.32" lengthAdjust="spacingAndGlyphs">0</text>
<text x="607.45" y="670.8" font-size="9.8" fill="#1c1c1c" textLength="12.64" lengthAdjust="spacingAndGlyphs">30</text>
<text x="442.21" y="686.6" font-size="9.8" fill="#1c1c1c" textLength="111" lengthAdjust="spacingAndGlyphs">Membrane potential (mV)</text>
<text transform="translate(345.4 612.4) rotate(-90)" x="-0.76" y="0" font-size="9.8" fill="#1c1c1c" textLength="79.73" lengthAdjust="spacingAndGlyphs">Normalized current</text>
<path d="M381,494.6 L382.3,494.73 L383.59,494.87 L384.89,495.02 L386.19,495.17 L387.48,495.33 L388.78,495.5 L390.08,495.67 L391.37,495.85 L392.67,496.04 L393.97,496.24 L395.26,496.44 L396.56,496.65 L397.86,496.87 L399.15,497.1 L400.45,497.34 L401.75,497.59 L403.04,497.84 L404.34,498.11 L405.64,498.39 L406.93,498.68 L408.23,498.98 L409.53,499.29 L410.82,499.62 L412.12,499.95 L413.42,500.3 L414.71,500.67 L416.01,501.04 L417.31,501.43 L418.6,501.84 L419.9,502.26 L421.2,502.7 L422.49,503.15 L423.79,503.62 L425.09,504.11 L426.38,504.61 L427.68,505.13 L428.98,505.67 L430.27,506.23 L431.57,506.81 L432.87,507.41 L434.16,508.03 L435.46,508.67 L436.76,509.33 L438.05,510.01 L439.35,510.72 L440.65,511.44 L441.94,512.19 L443.24,512.97 L444.54,513.77 L445.83,514.59 L447.13,515.44 L448.43,516.31 L449.73,517.21 L451.02,518.13 L452.32,519.08 L453.62,520.05 L454.91,521.05 L456.21,522.08 L457.51,523.13 L458.8,524.21 L460.1,525.31 L461.4,526.44 L462.69,527.6 L463.99,528.78 L465.29,529.99 L466.58,531.22 L467.88,532.48 L469.18,533.76 L470.47,535.07 L471.77,536.4 L473.07,537.75 L474.36,539.13 L475.66,540.53 L476.96,541.95 L478.25,543.38 L479.55,544.84 L480.85,546.31 L482.14,547.81 L483.44,549.31 L484.74,550.84 L486.03,552.37 L487.33,553.92 L488.63,555.48 L489.92,557.05 L491.22,558.63 L492.52,560.22 L493.81,561.81 L495.11,563.4 L496.41,565 L497.7,566.6 L499,568.2 L500.3,569.8 L501.59,571.39 L502.89,572.98 L504.19,574.57 L505.48,576.15 L506.78,577.72 L508.08,579.28 L509.37,580.83 L510.67,582.36 L511.97,583.89 L513.26,585.39 L514.56,586.89 L515.86,588.36 L517.15,589.82 L518.45,591.25 L519.75,592.67 L521.04,594.07 L522.34,595.45 L523.64,596.8 L524.93,598.13 L526.23,599.44 L527.53,600.72 L528.82,601.98 L530.12,603.21 L531.42,604.42 L532.71,605.6 L534.01,606.76 L535.31,607.89 L536.6,608.99 L537.9,610.07 L539.2,611.12 L540.49,612.15 L541.79,613.15 L543.09,614.12 L544.38,615.07 L545.68,615.99 L546.98,616.89 L548.27,617.76 L549.57,618.61 L550.87,619.43 L552.16,620.23 L553.46,621.01 L554.76,621.76 L556.05,622.48 L557.35,623.19 L558.65,623.87 L559.94,624.53 L561.24,625.17 L562.54,625.79 L563.83,626.39 L565.13,626.97 L566.43,627.53 L567.72,628.07 L569.02,628.59 L570.32,629.09 L571.61,629.58 L572.91,630.05 L574.21,630.5 L575.5,630.94 L576.8,631.36 L578.1,631.77 L579.4,632.16 L580.69,632.53 L581.99,632.9 L583.29,633.25 L584.58,633.58 L585.88,633.91 L587.18,634.22 L588.47,634.52 L589.77,634.81 L591.07,635.09 L592.36,635.36 L593.66,635.61 L594.96,635.86 L596.25,636.1 L597.55,636.33 L598.85,636.55 L600.14,636.76 L601.44,636.96 L602.74,637.16 L604.03,637.35 L605.33,637.53 L606.63,637.7 L607.92,637.87 L609.22,638.03 L610.52,638.18 L611.81,638.33 L613.11,638.47 L614.41,638.6 L615.7,638.73 L617,638.86 L618.3,638.98 L619.59,639.09 L620.89,639.21 L622.19,639.31 L623.48,639.41 L624.78,639.51 L626.08,639.61 L627.37,639.7" stroke="#000" stroke-width="2.7" fill="none" stroke-linejoin="round" />
<path d="M381,494.38 L382.3,494.51 L383.59,494.64 L384.89,494.77 L386.19,494.91 L387.48,495.06 L388.78,495.21 L390.08,495.37 L391.37,495.53 L392.67,495.7 L393.97,495.88 L395.26,496.07 L396.56,496.26 L397.86,496.46 L399.15,496.66 L400.45,496.88 L401.75,497.1 L403.04,497.34 L404.34,497.58 L405.64,497.83 L406.93,498.09 L408.23,498.36 L409.53,498.65 L410.82,498.94 L412.12,499.24 L413.42,499.56 L414.71,499.89 L416.01,500.23 L417.31,500.58 L418.6,500.95 L419.9,501.32 L421.2,501.72 L422.49,502.13 L423.79,502.55 L425.09,502.99 L426.38,503.44 L427.68,503.91 L428.98,504.4 L430.27,504.9 L431.57,505.42 L432.87,505.96 L434.16,506.52 L435.46,507.09 L436.76,507.69 L438.05,508.3 L439.35,508.94 L440.65,509.59 L441.94,510.27 L443.24,510.97 L444.54,511.69 L445.83,512.43 L447.13,513.2 L448.43,513.98 L449.73,514.8 L451.02,515.63 L452.32,516.49 L453.62,517.37 L454.91,518.28 L456.21,519.21 L457.51,520.17 L458.8,521.15 L460.1,522.16 L461.4,523.19 L462.69,524.25 L463.99,525.33 L465.29,526.44 L466.58,527.57 L467.88,528.73 L469.18,529.91 L470.47,531.11 L471.77,532.34 L473.07,533.6 L474.36,534.87 L475.66,536.17 L476.96,537.49 L478.25,538.84 L479.55,540.2 L480.85,541.58 L482.14,542.99 L483.44,544.41 L484.74,545.85 L486.03,547.3 L487.33,548.77 L488.63,550.26 L489.92,551.76 L491.22,553.27 L492.52,554.79 L493.81,556.32 L495.11,557.87 L496.41,559.42 L497.7,560.97 L499,562.53 L500.3,564.09 L501.59,565.66 L502.89,567.23 L504.19,568.79 L505.48,570.36 L506.78,571.92 L508.08,573.47 L509.37,575.02 L510.67,576.57 L511.97,578.1 L513.26,579.63 L514.56,581.14 L515.86,582.64 L517.15,584.13 L518.45,585.61 L519.75,587.06 L521.04,588.51 L522.34,589.93 L523.64,591.34 L524.93,592.73 L526.23,594.09 L527.53,595.44 L528.82,596.77 L530.12,598.07 L531.42,599.35 L532.71,600.61 L534.01,601.84 L535.31,603.05 L536.6,604.24 L537.9,605.4 L539.2,606.54 L540.49,607.65 L541.79,608.74 L543.09,609.8 L544.38,610.84 L545.68,611.85 L546.98,612.84 L548.27,613.8 L549.57,614.74 L550.87,615.65 L552.16,616.54 L553.46,617.4 L554.76,618.24 L556.05,619.06 L557.35,619.85 L558.65,620.62 L559.94,621.36 L561.24,622.09 L562.54,622.79 L563.83,623.47 L565.13,624.13 L566.43,624.77 L567.72,625.39 L569.02,625.99 L570.32,626.57 L571.61,627.13 L572.91,627.67 L574.21,628.2 L575.5,628.71 L576.8,629.19 L578.1,629.67 L579.4,630.12 L580.69,630.57 L581.99,630.99 L583.29,631.4 L584.58,631.8 L585.88,632.18 L587.18,632.55 L588.47,632.9 L589.77,633.25 L591.07,633.58 L592.36,633.89 L593.66,634.2 L594.96,634.5 L596.25,634.78 L597.55,635.05 L598.85,635.32 L600.14,635.57 L601.44,635.81 L602.74,636.05 L604.03,636.28 L605.33,636.49 L606.63,636.7 L607.92,636.9 L609.22,637.1 L610.52,637.28 L611.81,637.46 L613.11,637.63 L614.41,637.8 L615.7,637.96 L617,638.11 L618.3,638.26 L619.59,638.4 L620.89,638.54 L622.19,638.67 L623.48,638.79 L624.78,638.91 L626.08,639.03 L627.37,639.14" stroke="#000" stroke-width="2.7" fill="none" stroke-linejoin="round" />
<line x1="445.73" y1="510.06" x2="445.73" y2="519.06" stroke="#000" stroke-width="1.1"/>
<line x1="443.13" y1="510.06" x2="446.28" y2="510.06" stroke="#000" stroke-width="1.1"/>
<line x1="443.13" y1="519.06" x2="446.28" y2="519.06" stroke="#000" stroke-width="1.1"/>
<line x1="458.7" y1="516.99" x2="458.7" y2="534.99" stroke="#000" stroke-width="1.1"/>
<line x1="456.1" y1="516.99" x2="459.25" y2="516.99" stroke="#000" stroke-width="1.1"/>
<line x1="456.1" y1="534.99" x2="459.25" y2="534.99" stroke="#000" stroke-width="1.1"/>
<line x1="471.67" y1="527.08" x2="471.67" y2="551.08" stroke="#000" stroke-width="1.1"/>
<line x1="469.07" y1="527.08" x2="472.22" y2="527.08" stroke="#000" stroke-width="1.1"/>
<line x1="469.07" y1="551.08" x2="472.22" y2="551.08" stroke="#000" stroke-width="1.1"/>
<line x1="484.64" y1="539.56" x2="484.64" y2="566.56" stroke="#000" stroke-width="1.1"/>
<line x1="482.04" y1="539.56" x2="485.19" y2="539.56" stroke="#000" stroke-width="1.1"/>
<line x1="482.04" y1="566.56" x2="485.19" y2="566.56" stroke="#000" stroke-width="1.1"/>
<line x1="497.6" y1="555.05" x2="497.6" y2="579.05" stroke="#000" stroke-width="1.1"/>
<line x1="495" y1="555.05" x2="498.15" y2="555.05" stroke="#000" stroke-width="1.1"/>
<line x1="495" y1="579.05" x2="498.15" y2="579.05" stroke="#000" stroke-width="1.1"/>
<line x1="510.57" y1="571.89" x2="510.57" y2="592.89" stroke="#000" stroke-width="1.1"/>
<line x1="507.97" y1="571.89" x2="511.12" y2="571.89" stroke="#000" stroke-width="1.1"/>
<line x1="507.97" y1="592.89" x2="511.12" y2="592.89" stroke="#000" stroke-width="1.1"/>
<line x1="523.54" y1="584.68" x2="523.54" y2="605.68" stroke="#000" stroke-width="1.1"/>
<line x1="520.94" y1="584.68" x2="524.09" y2="584.68" stroke="#000" stroke-width="1.1"/>
<line x1="520.94" y1="605.68" x2="524.09" y2="605.68" stroke="#000" stroke-width="1.1"/>
<line x1="536.5" y1="596.7" x2="536.5" y2="614.7" stroke="#000" stroke-width="1.1"/>
<line x1="533.9" y1="596.7" x2="537.05" y2="596.7" stroke="#000" stroke-width="1.1"/>
<line x1="533.9" y1="614.7" x2="537.05" y2="614.7" stroke="#000" stroke-width="1.1"/>
<line x1="549.47" y1="608.73" x2="549.47" y2="623.73" stroke="#000" stroke-width="1.1"/>
<line x1="546.87" y1="608.73" x2="550.02" y2="608.73" stroke="#000" stroke-width="1.1"/>
<line x1="546.87" y1="623.73" x2="550.02" y2="623.73" stroke="#000" stroke-width="1.1"/>
<line x1="562.44" y1="619.25" x2="562.44" y2="628.25" stroke="#000" stroke-width="1.1"/>
<line x1="559.84" y1="619.25" x2="562.99" y2="619.25" stroke="#000" stroke-width="1.1"/>
<line x1="559.84" y1="628.25" x2="562.99" y2="628.25" stroke="#000" stroke-width="1.1"/>
<line x1="445.73" y1="502.7" x2="445.73" y2="514.7" stroke="#000" stroke-width="1.1"/>
<line x1="443.13" y1="502.7" x2="446.28" y2="502.7" stroke="#000" stroke-width="1.1"/>
<line x1="443.13" y1="514.7" x2="446.28" y2="514.7" stroke="#000" stroke-width="1.1"/>
<line x1="458.7" y1="512.48" x2="458.7" y2="527.48" stroke="#000" stroke-width="1.1"/>
<line x1="456.1" y1="512.48" x2="459.25" y2="512.48" stroke="#000" stroke-width="1.1"/>
<line x1="456.1" y1="527.48" x2="459.25" y2="527.48" stroke="#000" stroke-width="1.1"/>
<line x1="471.67" y1="520" x2="471.67" y2="541" stroke="#000" stroke-width="1.1"/>
<line x1="469.07" y1="520" x2="472.22" y2="520" stroke="#000" stroke-width="1.1"/>
<line x1="469.07" y1="541" x2="472.22" y2="541" stroke="#000" stroke-width="1.1"/>
<line x1="484.64" y1="538.8" x2="484.64" y2="559.8" stroke="#000" stroke-width="1.1"/>
<line x1="482.04" y1="538.8" x2="485.19" y2="538.8" stroke="#000" stroke-width="1.1"/>
<line x1="482.04" y1="559.8" x2="485.19" y2="559.8" stroke="#000" stroke-width="1.1"/>
<line x1="497.6" y1="550.84" x2="497.6" y2="574.84" stroke="#000" stroke-width="1.1"/>
<line x1="495" y1="550.84" x2="498.15" y2="550.84" stroke="#000" stroke-width="1.1"/>
<line x1="495" y1="574.84" x2="498.15" y2="574.84" stroke="#000" stroke-width="1.1"/>
<line x1="510.57" y1="565.13" x2="510.57" y2="589.13" stroke="#000" stroke-width="1.1"/>
<line x1="507.97" y1="565.13" x2="511.12" y2="565.13" stroke="#000" stroke-width="1.1"/>
<line x1="507.97" y1="589.13" x2="511.12" y2="589.13" stroke="#000" stroke-width="1.1"/>
<line x1="523.54" y1="577.76" x2="523.54" y2="598.76" stroke="#000" stroke-width="1.1"/>
<line x1="520.94" y1="577.76" x2="524.09" y2="577.76" stroke="#000" stroke-width="1.1"/>
<line x1="520.94" y1="598.76" x2="524.09" y2="598.76" stroke="#000" stroke-width="1.1"/>
<line x1="536.5" y1="589.49" x2="536.5" y2="610.49" stroke="#000" stroke-width="1.1"/>
<line x1="533.9" y1="589.49" x2="537.05" y2="589.49" stroke="#000" stroke-width="1.1"/>
<line x1="533.9" y1="610.49" x2="537.05" y2="610.49" stroke="#000" stroke-width="1.1"/>
<line x1="549.47" y1="601.52" x2="549.47" y2="619.52" stroke="#000" stroke-width="1.1"/>
<line x1="546.87" y1="601.52" x2="550.02" y2="601.52" stroke="#000" stroke-width="1.1"/>
<line x1="546.87" y1="619.52" x2="550.02" y2="619.52" stroke="#000" stroke-width="1.1"/>
<line x1="562.44" y1="610.24" x2="562.44" y2="625.24" stroke="#000" stroke-width="1.1"/>
<line x1="559.84" y1="610.24" x2="562.99" y2="610.24" stroke="#000" stroke-width="1.1"/>
<line x1="559.84" y1="625.24" x2="562.99" y2="625.24" stroke="#000" stroke-width="1.1"/>
<line x1="575.41" y1="620.76" x2="575.41" y2="629.76" stroke="#000" stroke-width="1.1"/>
<line x1="572.81" y1="620.76" x2="575.96" y2="620.76" stroke="#000" stroke-width="1.1"/>
<line x1="572.81" y1="629.76" x2="575.96" y2="629.76" stroke="#000" stroke-width="1.1"/>
<rect x="403.78" y="487.55" width="4.7" height="4.7" fill="#fff" stroke="#000" stroke-width="1.3"/>
<rect x="416.75" y="489.5" width="4.7" height="4.7" fill="#fff" stroke="#000" stroke-width="1.3"/>
<rect x="429.72" y="494.61" width="4.7" height="4.7" fill="#fff" stroke="#000" stroke-width="1.3"/>
<rect x="442.68" y="506.35" width="4.7" height="4.7" fill="#fff" stroke="#000" stroke-width="1.3"/>
<rect x="455.65" y="517.63" width="4.7" height="4.7" fill="#fff" stroke="#000" stroke-width="1.3"/>
<rect x="468.62" y="528.15" width="4.7" height="4.7" fill="#fff" stroke="#000" stroke-width="1.3"/>
<rect x="481.59" y="546.95" width="4.7" height="4.7" fill="#fff" stroke="#000" stroke-width="1.3"/>
<rect x="494.55" y="560.49" width="4.7" height="4.7" fill="#fff" stroke="#000" stroke-width="1.3"/>
<rect x="507.52" y="574.78" width="4.7" height="4.7" fill="#fff" stroke="#000" stroke-width="1.3"/>
<rect x="520.49" y="585.91" width="4.7" height="4.7" fill="#fff" stroke="#000" stroke-width="1.3"/>
<rect x="533.45" y="597.64" width="4.7" height="4.7" fill="#fff" stroke="#000" stroke-width="1.3"/>
<rect x="546.42" y="608.17" width="4.7" height="4.7" fill="#fff" stroke="#000" stroke-width="1.3"/>
<rect x="559.39" y="615.39" width="4.7" height="4.7" fill="#fff" stroke="#000" stroke-width="1.3"/>
<rect x="572.36" y="622.91" width="4.7" height="4.7" fill="#fff" stroke="#000" stroke-width="1.3"/>
<rect x="416.1" y="492.46" width="6" height="6" fill="#000" stroke="none" stroke-width="0"/>
<rect x="429.07" y="501.94" width="6" height="6" fill="#000" stroke="none" stroke-width="0"/>
<rect x="442.03" y="511.56" width="6" height="6" fill="#000" stroke="none" stroke-width="0"/>
<rect x="455" y="522.99" width="6" height="6" fill="#000" stroke="none" stroke-width="0"/>
<rect x="467.97" y="536.08" width="6" height="6" fill="#000" stroke="none" stroke-width="0"/>
<rect x="480.94" y="550.06" width="6" height="6" fill="#000" stroke="none" stroke-width="0"/>
<rect x="493.9" y="564.05" width="6" height="6" fill="#000" stroke="none" stroke-width="0"/>
<rect x="506.87" y="579.39" width="6" height="6" fill="#000" stroke="none" stroke-width="0"/>
<rect x="519.84" y="592.18" width="6" height="6" fill="#000" stroke="none" stroke-width="0"/>
<rect x="532.8" y="602.7" width="6" height="6" fill="#000" stroke="none" stroke-width="0"/>
<rect x="545.77" y="613.23" width="6" height="6" fill="#000" stroke="none" stroke-width="0"/>
<rect x="558.74" y="620.75" width="6" height="6" fill="#000" stroke="none" stroke-width="0"/>
<rect x="571.71" y="627.52" width="6" height="6" fill="#000" stroke="none" stroke-width="0"/>
<rect x="584.67" y="633.54" width="6" height="6" fill="#000" stroke="none" stroke-width="0"/>
<rect x="597.64" y="638.8" width="6" height="6" fill="#000" stroke="none" stroke-width="0"/>
<rect x="401.6" y="616.4" width="7" height="7" fill="#000" stroke="none" stroke-width="0"/>
<rect x="402.25" y="629.15" width="5.7" height="5.7" fill="#fff" stroke="#000" stroke-width="1.3"/>
<text x="416.7" y="624" font-size="9.9" fill="#1c1c1c" textLength="32.29" lengthAdjust="spacingAndGlyphs">Control</text>
<text x="416.44" y="635.8" font-size="9.9" fill="#1c1c1c" textLength="65.14" lengthAdjust="spacingAndGlyphs">10 μmol/L ATV</text>
<line x1="505" y1="494.6" x2="580.6" y2="494.6" stroke="#000" stroke-width="1.3"/>
<line x1="580" y1="494" x2="580" y2="547.6" stroke="#000" stroke-width="1.3"/>
<line x1="579.4" y1="547" x2="595" y2="547" stroke="#000" stroke-width="1.3"/>
<line x1="565.6" y1="494.6" x2="565.6" y2="570" stroke="#000" stroke-width="1.1"/>
<line x1="570.6" y1="494.6" x2="570.6" y2="570" stroke="#000" stroke-width="1.1"/>
<line x1="565" y1="494.6" x2="571.2" y2="494.6" stroke="#000" stroke-width="1.1"/>
<line x1="565" y1="498.19" x2="571.2" y2="498.19" stroke="#000" stroke-width="1.1"/>
<line x1="565" y1="501.78" x2="571.2" y2="501.78" stroke="#000" stroke-width="1.1"/>
<line x1="565" y1="505.37" x2="571.2" y2="505.37" stroke="#000" stroke-width="1.1"/>
<line x1="565" y1="508.96" x2="571.2" y2="508.96" stroke="#000" stroke-width="1.1"/>
<line x1="565" y1="512.55" x2="571.2" y2="512.55" stroke="#000" stroke-width="1.1"/>
<line x1="565" y1="516.14" x2="571.2" y2="516.14" stroke="#000" stroke-width="1.1"/>
<line x1="565" y1="519.73" x2="571.2" y2="519.73" stroke="#000" stroke-width="1.1"/>
<line x1="565" y1="523.32" x2="571.2" y2="523.32" stroke="#000" stroke-width="1.1"/>
<line x1="565" y1="526.91" x2="571.2" y2="526.91" stroke="#000" stroke-width="1.1"/>
<line x1="565" y1="530.5" x2="571.2" y2="530.5" stroke="#000" stroke-width="1.1"/>
<line x1="565" y1="534.09" x2="571.2" y2="534.09" stroke="#000" stroke-width="1.1"/>
<line x1="565" y1="537.68" x2="571.2" y2="537.68" stroke="#000" stroke-width="1.1"/>
<line x1="565" y1="541.27" x2="571.2" y2="541.27" stroke="#000" stroke-width="1.1"/>
<line x1="565" y1="544.86" x2="571.2" y2="544.86" stroke="#000" stroke-width="1.1"/>
<line x1="565" y1="548.45" x2="571.2" y2="548.45" stroke="#000" stroke-width="1.1"/>
<line x1="565" y1="552.04" x2="571.2" y2="552.04" stroke="#000" stroke-width="1.1"/>
<line x1="565" y1="555.63" x2="571.2" y2="555.63" stroke="#000" stroke-width="1.1"/>
<line x1="565" y1="559.22" x2="571.2" y2="559.22" stroke="#000" stroke-width="1.1"/>
<line x1="565" y1="562.81" x2="571.2" y2="562.81" stroke="#000" stroke-width="1.1"/>
<line x1="565" y1="566.4" x2="571.2" y2="566.4" stroke="#000" stroke-width="1.1"/>
<line x1="565" y1="569.99" x2="571.2" y2="569.99" stroke="#000" stroke-width="1.1"/>
<text x="524.5" y="489.4" font-size="9.3" fill="#1c1c1c" textLength="29.16" lengthAdjust="spacingAndGlyphs">20 mV</text>
<text x="577.56" y="560.3" font-size="9.3" fill="#1c1c1c" textLength="31.52" lengthAdjust="spacingAndGlyphs">-80 mV</text>
<text x="550.55" y="583.9" font-size="9.3" fill="#1c1c1c" textLength="37.54" lengthAdjust="spacingAndGlyphs">-130 mV</text>
<line x1="609.3" y1="496" x2="682.2" y2="496" stroke="#000" stroke-width="2.6"/>
<path d="M635.4,444.3 L637.3,448.5 L639.3,453 L642.3,462.6 L645.4,473 L648.8,481.7 L653.2,489.5 L658.4,493.8 L665.3,495.6 L670,496 L670,496.5 L635.4,496.5Z" stroke="#000" stroke-width="0.9" fill="#000" stroke-linejoin="round" />
<line x1="636.6" y1="462" x2="636.6" y2="463.6" stroke="#fff" stroke-width="0.9"/>
<line x1="636.6" y1="466.6" x2="636.6" y2="468.2" stroke="#fff" stroke-width="0.9"/>
<line x1="636.6" y1="471.2" x2="636.6" y2="472.8" stroke="#fff" stroke-width="0.9"/>
<line x1="636.6" y1="475.8" x2="636.6" y2="477.4" stroke="#fff" stroke-width="0.9"/>
<line x1="636.6" y1="480.4" x2="636.6" y2="482" stroke="#fff" stroke-width="0.9"/>
<line x1="636.6" y1="485" x2="636.6" y2="486.6" stroke="#fff" stroke-width="0.9"/>
<line x1="636.6" y1="489.6" x2="636.6" y2="491.2" stroke="#fff" stroke-width="0.9"/>
<line x1="638" y1="474" x2="645.75" y2="478.5" stroke="#fff" stroke-width="0.55"/>
<line x1="638" y1="478" x2="647.37" y2="482.5" stroke="#fff" stroke-width="0.55"/>
<line x1="638" y1="482" x2="649.63" y2="486.5" stroke="#fff" stroke-width="0.55"/>
<line x1="638" y1="486" x2="652.2" y2="490.5" stroke="#fff" stroke-width="0.55"/>
<line x1="638" y1="490" x2="657.57" y2="494.5" stroke="#fff" stroke-width="0.55"/>
<path d="M624.9,496.5 L625,528 L625.8,545 L626.5,562 L627.4,577.4 L627.4,577.4 L631.5,570.5 L634.4,561.7 L634.8,545 L635,520 L635,496.5Z" stroke="#000" stroke-width="1.1" fill="#fff" stroke-linejoin="round" />
<line x1="625" y1="496.5" x2="625" y2="528" stroke="#000" stroke-width="2.2"/>
<path d="M625.91,499.5 L626.02,500.1 L626.11,500.72 L626.19,501.34 L626.3,501.94 L626.47,502.5 L626.71,503 L627.02,503.45 L627.36,503.86 L627.76,504.23 L628.23,504.56 L628.77,504.85 L629.41,505.1 L630.17,505.29 L631.06,505.41 L632.02,505.49 L633.03,505.56 L634.03,505.62 L635,505.7" stroke="#000" stroke-width="0.9" fill="none" stroke-linejoin="round" />
<path d="M625.93,507.3 L626.05,507.9 L626.13,508.52 L626.22,509.14 L626.33,509.74 L626.49,510.3 L626.73,510.8 L627.04,511.25 L627.39,511.66 L627.79,512.03 L628.25,512.36 L628.8,512.65 L629.43,512.9 L630.2,513.09 L631.08,513.21 L632.04,513.29 L633.04,513.36 L634.04,513.42 L635,513.5" stroke="#000" stroke-width="0.9" fill="none" stroke-linejoin="round" />
<path d="M625.96,515.1 L626.07,515.7 L626.16,516.32 L626.24,516.94 L626.35,517.54 L626.52,518.1 L626.76,518.6 L627.07,519.05 L627.41,519.46 L627.81,519.83 L628.28,520.16 L628.82,520.45 L629.46,520.7 L630.22,520.89 L631.09,521.01 L632.05,521.09 L633.04,521.16 L634.04,521.22 L634.99,521.3" stroke="#000" stroke-width="0.9" fill="none" stroke-linejoin="round" />
<path d="M625.98,522.9 L626.1,523.5 L626.18,524.12 L626.27,524.74 L626.38,525.34 L626.54,525.9 L626.78,526.4 L627.09,526.85 L627.44,527.26 L627.84,527.63 L628.31,527.96 L628.85,528.25 L629.48,528.5 L630.23,528.69 L631.1,528.81 L632.03,528.89 L633.01,528.96 L633.99,529.02 L634.93,529.1" stroke="#000" stroke-width="0.9" fill="none" stroke-linejoin="round" />
<path d="M626.13,530.7 L626.24,531.3 L626.32,531.92 L626.41,532.54 L626.52,533.14 L626.68,533.7 L626.93,534.2 L627.24,534.65 L627.59,535.06 L628,535.43 L628.47,535.76 L629.01,536.05 L629.63,536.3 L630.35,536.49 L631.19,536.61 L632.09,536.69 L633.03,536.76 L633.96,536.82 L634.87,536.9" stroke="#000" stroke-width="0.9" fill="none" stroke-linejoin="round" />
<path d="M626.49,538.5 L626.61,539.1 L626.69,539.72 L626.78,540.34 L626.89,540.94 L627.05,541.5 L627.29,542 L627.61,542.45 L627.98,542.86 L628.39,543.23 L628.87,543.56 L629.4,543.85 L629.99,544.1 L630.67,544.29 L631.44,544.41 L632.27,544.49 L633.12,544.56 L633.98,544.62 L634.8,544.7" stroke="#000" stroke-width="0.9" fill="none" stroke-linejoin="round" />
<path d="M626.85,546.3 L626.96,546.9 L627.05,547.52 L627.13,548.14 L627.25,548.74 L627.41,549.3 L627.65,549.8 L627.98,550.25 L628.35,550.66 L628.79,551.03 L629.27,551.36 L629.79,551.65 L630.35,551.9 L630.97,552.09 L631.66,552.21 L632.39,552.29 L633.14,552.36 L633.9,552.42 L634.63,552.5" stroke="#000" stroke-width="0.9" fill="none" stroke-linejoin="round" />
<path d="M627.17,554.1 L627.29,554.7 L627.37,555.32 L627.46,555.94 L627.57,556.54 L627.73,557.1 L627.97,557.6 L628.3,558.05 L628.69,558.46 L629.14,558.83 L629.63,559.16 L630.14,559.45 L630.67,559.7 L631.24,559.89 L631.85,560.01 L632.49,560.09 L633.14,560.16 L633.8,560.22 L634.44,560.3" stroke="#000" stroke-width="0.9" fill="none" stroke-linejoin="round" />
<path d="M627.5,561.9 L627.61,562.5 L627.69,563.12 L627.78,563.74 L627.89,564.34 L628.05,564.9 L628.3,565.4 L628.65,565.85 L629.1,566.26 L629.61,566.63 L630.12,566.96 L630.6,567.25 L631,567.5 L631.3,567.69 L631.55,567.81 L631.76,567.89 L631.95,567.96 L632.15,568.02 L632.36,568.1" stroke="#000" stroke-width="0.9" fill="none" stroke-linejoin="round" />
<line x1="635" y1="444.3" x2="635" y2="496" stroke="#000" stroke-width="1.6"/>
<path d="M626,498.5 L629,500.5 L633,499" stroke="#000" stroke-width="0.9" fill="none" stroke-linejoin="round" />
</svg>
</body></html>
